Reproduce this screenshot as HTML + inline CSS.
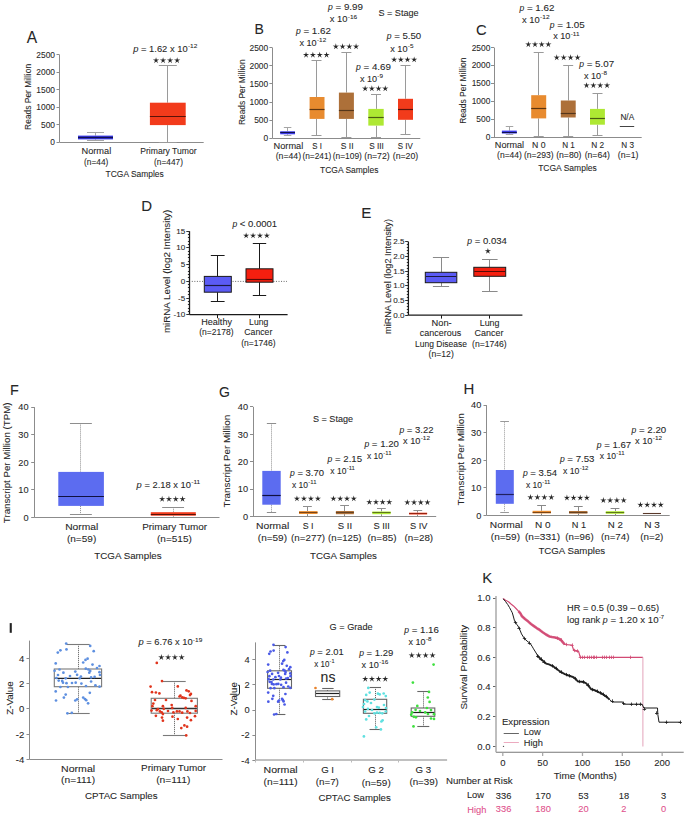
<!DOCTYPE html>
<html><head><meta charset="utf-8"><title>Figure</title>
<style>
html,body{margin:0;padding:0;background:#fff;}
body{width:685px;height:817px;overflow:hidden;}
svg{display:block;font-family:"Liberation Sans",sans-serif;}
text{stroke:currentColor;stroke-width:0.08px;paint-order:stroke;}
</style></head><body>
<svg width="685" height="817" viewBox="0 0 685 817">
<rect width="685" height="817" fill="#fff"/>
<text x="26.7" y="43.2" font-size="15.6" fill="#262626" color="#262626">A</text>
<line x1="59.5" y1="54.7" x2="59.5" y2="142.3" stroke="#8c8c8c" stroke-width="1" stroke-linecap="butt"/>
<line x1="56.5" y1="142.5" x2="59.5" y2="142.5" stroke="#8c8c8c" stroke-width="1" stroke-linecap="butt"/>
<text x="55" y="145.3" font-size="8.4" fill="#262626" color="#262626" text-anchor="end">0</text>
<line x1="56.5" y1="124.5" x2="59.5" y2="124.5" stroke="#8c8c8c" stroke-width="1" stroke-linecap="butt"/>
<text x="55" y="127.78" font-size="8.4" fill="#262626" color="#262626" text-anchor="end">500</text>
<line x1="56.5" y1="107.5" x2="59.5" y2="107.5" stroke="#8c8c8c" stroke-width="1" stroke-linecap="butt"/>
<text x="55" y="110.26" font-size="8.4" fill="#262626" color="#262626" text-anchor="end">1000</text>
<line x1="56.5" y1="89.5" x2="59.5" y2="89.5" stroke="#8c8c8c" stroke-width="1" stroke-linecap="butt"/>
<text x="55" y="92.74" font-size="8.4" fill="#262626" color="#262626" text-anchor="end">1500</text>
<line x1="56.5" y1="72.5" x2="59.5" y2="72.5" stroke="#8c8c8c" stroke-width="1" stroke-linecap="butt"/>
<text x="55" y="75.22" font-size="8.4" fill="#262626" color="#262626" text-anchor="end">2000</text>
<line x1="56.5" y1="54.5" x2="59.5" y2="54.5" stroke="#8c8c8c" stroke-width="1" stroke-linecap="butt"/>
<text x="55" y="57.7" font-size="8.4" fill="#262626" color="#262626" text-anchor="end">2500</text>
<text x="31.3" y="96.9" font-size="8.5" fill="#262626" color="#262626" text-anchor="middle" textLength="66" lengthAdjust="spacingAndGlyphs" transform="rotate(-90 31.3 96.9)">Reads Per Million</text>
<line x1="59.5" y1="142.5" x2="203.7" y2="142.5" stroke="#8c8c8c" stroke-width="1" stroke-linecap="butt"/>
<line x1="95.5" y1="132" x2="95.5" y2="135.6" stroke="#a5a5a5" stroke-width="1" stroke-linecap="butt"/>
<line x1="95.5" y1="139.4" x2="95.5" y2="140.4" stroke="#a5a5a5" stroke-width="1" stroke-linecap="butt"/>
<line x1="87" y1="132.5" x2="104" y2="132.5" stroke="#a5a5a5" stroke-width="1" stroke-linecap="butt"/>
<line x1="87" y1="140.5" x2="104" y2="140.5" stroke="#a5a5a5" stroke-width="1" stroke-linecap="butt"/>
<rect x="78" y="135.6" width="35" height="3.8" fill="#3d3df0" stroke="none" stroke-width="1"/>
<line x1="78" y1="137.5" x2="113" y2="137.5" stroke="#101050" stroke-width="1.3" stroke-linecap="butt"/>
<line x1="167.5" y1="65.4" x2="167.5" y2="102.7" stroke="#9a9a9a" stroke-width="1" stroke-linecap="butt"/>
<line x1="167.5" y1="125.1" x2="167.5" y2="142" stroke="#9a9a9a" stroke-width="1" stroke-linecap="butt"/>
<line x1="158.8" y1="65.5" x2="176.8" y2="65.5" stroke="#9a9a9a" stroke-width="1" stroke-linecap="butt"/>
<line x1="158.8" y1="142.5" x2="176.8" y2="142.5" stroke="#9a9a9a" stroke-width="1" stroke-linecap="butt"/>
<rect x="149.9" y="102.7" width="35.8" height="22.4" fill="#f23b1b" stroke="none" stroke-width="1"/>
<line x1="149.9" y1="116.5" x2="185.7" y2="116.5" stroke="#5a1208" stroke-width="1.2" stroke-linecap="butt"/>
<text x="96.35" y="154" font-size="8.3" fill="#262626" color="#262626" text-anchor="middle" textLength="29.7" lengthAdjust="spacingAndGlyphs">Normal</text>
<text x="96.2" y="164.5" font-size="8.3" fill="#262626" color="#262626" text-anchor="middle" textLength="24.4" lengthAdjust="spacingAndGlyphs">(n=44)</text>
<text x="168.45" y="154.1" font-size="8.3" fill="#262626" color="#262626" text-anchor="middle" textLength="56.5" lengthAdjust="spacingAndGlyphs">Primary Tumor</text>
<text x="168.5" y="164.6" font-size="8.3" fill="#262626" color="#262626" text-anchor="middle">(n=447)</text>
<text x="134.7" y="177" font-size="8.3" fill="#262626" color="#262626" text-anchor="middle" textLength="58.2" lengthAdjust="spacingAndGlyphs">TCGA Samples</text>
<text x="133.2" y="52" font-size="8.6" fill="#262626" color="#262626" textLength="5.21" lengthAdjust="spacingAndGlyphs" font-style="italic">p</text>
<text x="138.41" y="52" font-size="8.6" fill="#262626" color="#262626" textLength="49.22" lengthAdjust="spacingAndGlyphs"> = 1.62 x 10</text>
<text x="187.93" y="48.1" font-size="6" fill="#262626" color="#262626" textLength="9.45" lengthAdjust="spacingAndGlyphs">-12</text>
<polygon points="156.04,57.2 156.68,59.61 159.18,59.48 157.08,60.84 157.98,63.17 156.04,61.6 154.1,63.17 154.99,60.84 152.9,59.48 155.39,59.61" fill="#262626"/>
<polygon points="163.08,57.2 163.73,59.61 166.22,59.48 164.13,60.84 165.02,63.17 163.08,61.6 161.14,63.17 162.03,60.84 159.94,59.48 162.43,59.61" fill="#262626"/>
<polygon points="170.12,57.2 170.77,59.61 173.26,59.48 171.17,60.84 172.06,63.17 170.12,61.6 168.18,63.17 169.07,60.84 166.98,59.48 169.47,59.61" fill="#262626"/>
<polygon points="177.16,57.2 177.81,59.61 180.3,59.48 178.21,60.84 179.1,63.17 177.16,61.6 175.22,63.17 176.12,60.84 174.02,59.48 176.52,59.61" fill="#262626"/>
<text x="254.4" y="33.6" font-size="14" fill="#262626" color="#262626">B</text>
<line x1="272.5" y1="47.7" x2="272.5" y2="138.3" stroke="#8c8c8c" stroke-width="1" stroke-linecap="butt"/>
<line x1="269.4" y1="138.5" x2="272.4" y2="138.5" stroke="#8c8c8c" stroke-width="1" stroke-linecap="butt"/>
<text x="268.2" y="141.3" font-size="8.4" fill="#262626" color="#262626" text-anchor="end">0</text>
<line x1="269.4" y1="120.5" x2="272.4" y2="120.5" stroke="#8c8c8c" stroke-width="1" stroke-linecap="butt"/>
<text x="268.2" y="123.18" font-size="8.4" fill="#262626" color="#262626" text-anchor="end">500</text>
<line x1="269.4" y1="102.5" x2="272.4" y2="102.5" stroke="#8c8c8c" stroke-width="1" stroke-linecap="butt"/>
<text x="268.2" y="105.06" font-size="8.4" fill="#262626" color="#262626" text-anchor="end">1000</text>
<line x1="269.4" y1="83.5" x2="272.4" y2="83.5" stroke="#8c8c8c" stroke-width="1" stroke-linecap="butt"/>
<text x="268.2" y="86.94" font-size="8.4" fill="#262626" color="#262626" text-anchor="end">1500</text>
<line x1="269.4" y1="65.5" x2="272.4" y2="65.5" stroke="#8c8c8c" stroke-width="1" stroke-linecap="butt"/>
<text x="268.2" y="68.82" font-size="8.4" fill="#262626" color="#262626" text-anchor="end">2000</text>
<line x1="269.4" y1="47.5" x2="272.4" y2="47.5" stroke="#8c8c8c" stroke-width="1" stroke-linecap="butt"/>
<text x="268.2" y="50.7" font-size="8.4" fill="#262626" color="#262626" text-anchor="end">2500</text>
<text x="245.3" y="92.2" font-size="8.5" fill="#262626" color="#262626" text-anchor="middle" textLength="65.7" lengthAdjust="spacingAndGlyphs" transform="rotate(-90 245.3 92.2)">Reads Per Million</text>
<line x1="272.4" y1="138.5" x2="420.3" y2="138.5" stroke="#8c8c8c" stroke-width="1" stroke-linecap="butt"/>
<line x1="287.5" y1="127" x2="287.5" y2="131.3" stroke="#a5a5a5" stroke-width="1" stroke-linecap="butt"/>
<line x1="287.5" y1="134.3" x2="287.5" y2="135.2" stroke="#a5a5a5" stroke-width="1" stroke-linecap="butt"/>
<line x1="283.85" y1="127.5" x2="291.35" y2="127.5" stroke="#a5a5a5" stroke-width="1" stroke-linecap="butt"/>
<line x1="283.85" y1="135.5" x2="291.35" y2="135.5" stroke="#a5a5a5" stroke-width="1" stroke-linecap="butt"/>
<rect x="280.2" y="131.3" width="14.8" height="3" fill="#3d3df0" stroke="none" stroke-width="1"/>
<line x1="280.2" y1="132.5" x2="295" y2="132.5" stroke="#101050" stroke-width="1.1" stroke-linecap="butt"/>
<line x1="316.5" y1="60.4" x2="316.5" y2="97" stroke="#9a9a9a" stroke-width="1" stroke-linecap="butt"/>
<line x1="316.5" y1="118.9" x2="316.5" y2="135.4" stroke="#9a9a9a" stroke-width="1" stroke-linecap="butt"/>
<line x1="311.5" y1="60.5" x2="321.5" y2="60.5" stroke="#9a9a9a" stroke-width="1" stroke-linecap="butt"/>
<line x1="311.5" y1="135.5" x2="321.5" y2="135.5" stroke="#9a9a9a" stroke-width="1" stroke-linecap="butt"/>
<rect x="309.6" y="97" width="14.9" height="21.9" fill="#e88b2f" stroke="none" stroke-width="1"/>
<line x1="309.6" y1="109.5" x2="324.5" y2="109.5" stroke="#5e3510" stroke-width="1.2" stroke-linecap="butt"/>
<line x1="346.5" y1="52.2" x2="346.5" y2="92.6" stroke="#9a9a9a" stroke-width="1" stroke-linecap="butt"/>
<line x1="346.5" y1="118.9" x2="346.5" y2="137.3" stroke="#9a9a9a" stroke-width="1" stroke-linecap="butt"/>
<line x1="341.4" y1="52.5" x2="351.4" y2="52.5" stroke="#9a9a9a" stroke-width="1" stroke-linecap="butt"/>
<line x1="341.4" y1="137.5" x2="351.4" y2="137.5" stroke="#9a9a9a" stroke-width="1" stroke-linecap="butt"/>
<rect x="338.9" y="92.6" width="15" height="26.3" fill="#ad7039" stroke="none" stroke-width="1"/>
<line x1="338.9" y1="110.5" x2="353.9" y2="110.5" stroke="#55361a" stroke-width="1.2" stroke-linecap="butt"/>
<line x1="376.5" y1="94.4" x2="376.5" y2="108.9" stroke="#9a9a9a" stroke-width="1" stroke-linecap="butt"/>
<line x1="376.5" y1="125.6" x2="376.5" y2="137.3" stroke="#9a9a9a" stroke-width="1" stroke-linecap="butt"/>
<line x1="371" y1="94.5" x2="381" y2="94.5" stroke="#9a9a9a" stroke-width="1" stroke-linecap="butt"/>
<line x1="371" y1="137.5" x2="381" y2="137.5" stroke="#9a9a9a" stroke-width="1" stroke-linecap="butt"/>
<rect x="368.3" y="108.9" width="15.4" height="16.7" fill="#aee833" stroke="none" stroke-width="1"/>
<line x1="368.3" y1="117.5" x2="383.7" y2="117.5" stroke="#4a5a12" stroke-width="1.2" stroke-linecap="butt"/>
<line x1="405.5" y1="65.1" x2="405.5" y2="98.8" stroke="#9a9a9a" stroke-width="1" stroke-linecap="butt"/>
<line x1="405.5" y1="119.8" x2="405.5" y2="134.3" stroke="#9a9a9a" stroke-width="1" stroke-linecap="butt"/>
<line x1="400.5" y1="65.5" x2="410.5" y2="65.5" stroke="#9a9a9a" stroke-width="1" stroke-linecap="butt"/>
<line x1="400.5" y1="134.5" x2="410.5" y2="134.5" stroke="#9a9a9a" stroke-width="1" stroke-linecap="butt"/>
<rect x="398" y="98.8" width="15" height="21" fill="#f23b1b" stroke="none" stroke-width="1"/>
<line x1="398" y1="109.5" x2="413" y2="109.5" stroke="#5a1208" stroke-width="1.2" stroke-linecap="butt"/>
<text x="288.4" y="148.7" font-size="8.3" fill="#262626" color="#262626" text-anchor="middle" textLength="29.7" lengthAdjust="spacingAndGlyphs">Normal</text>
<text x="288.4" y="159.2" font-size="8.3" fill="#262626" color="#262626" text-anchor="middle" textLength="25.4" lengthAdjust="spacingAndGlyphs">(n=44)</text>
<text x="317.1" y="148.7" font-size="8.3" fill="#262626" color="#262626" text-anchor="middle" textLength="9.6" lengthAdjust="spacingAndGlyphs">S I</text>
<text x="316.9" y="159.2" font-size="8.3" fill="#262626" color="#262626" text-anchor="middle" textLength="28.9" lengthAdjust="spacingAndGlyphs">(n=241)</text>
<text x="347.2" y="148.7" font-size="8.3" fill="#262626" color="#262626" text-anchor="middle" textLength="12.8" lengthAdjust="spacingAndGlyphs">S II</text>
<text x="347.3" y="159.2" font-size="8.3" fill="#262626" color="#262626" text-anchor="middle" textLength="29.2" lengthAdjust="spacingAndGlyphs">(n=109)</text>
<text x="376.5" y="148.7" font-size="8.3" fill="#262626" color="#262626" text-anchor="middle" textLength="14.6" lengthAdjust="spacingAndGlyphs">S III</text>
<text x="377" y="159.2" font-size="8.3" fill="#262626" color="#262626" text-anchor="middle" textLength="25.5" lengthAdjust="spacingAndGlyphs">(n=72)</text>
<text x="405.2" y="148.7" font-size="8.3" fill="#262626" color="#262626" text-anchor="middle" textLength="15" lengthAdjust="spacingAndGlyphs">S IV</text>
<text x="405.5" y="159.2" font-size="8.3" fill="#262626" color="#262626" text-anchor="middle" textLength="25.5" lengthAdjust="spacingAndGlyphs">(n=20)</text>
<text x="349.2" y="172.7" font-size="8.3" fill="#262626" color="#262626" text-anchor="middle" textLength="58.4" lengthAdjust="spacingAndGlyphs">TCGA Samples</text>
<text x="378.4" y="15.8" font-size="8.6" fill="#262626" color="#262626" textLength="40.3" lengthAdjust="spacingAndGlyphs">S = Stage</text>
<text x="295.9" y="33.8" font-size="8.6" fill="#262626" color="#262626" font-style="italic">p</text>
<text x="300.68" y="33.8" font-size="8.6" fill="#262626" color="#262626" textLength="30.32" lengthAdjust="spacingAndGlyphs"> = 1.62</text>
<text x="299.4" y="45.9" font-size="8.6" fill="#262626" color="#262626" textLength="17.27" lengthAdjust="spacingAndGlyphs">x 10</text>
<text x="316.97" y="42" font-size="6" fill="#262626" color="#262626" textLength="9.21" lengthAdjust="spacingAndGlyphs">-12</text>
<polygon points="306.04,51.7 306.68,54.11 309.18,53.98 307.08,55.34 307.98,57.67 306.04,56.1 304.1,57.67 304.99,55.34 302.9,53.98 305.39,54.11" fill="#262626"/>
<polygon points="312.88,51.7 313.53,54.11 316.02,53.98 313.93,55.34 314.82,57.67 312.88,56.1 310.94,57.67 311.83,55.34 309.74,53.98 312.23,54.11" fill="#262626"/>
<polygon points="319.72,51.7 320.37,54.11 322.86,53.98 320.77,55.34 321.66,57.67 319.72,56.1 317.78,57.67 318.67,55.34 316.58,53.98 319.07,54.11" fill="#262626"/>
<polygon points="326.56,51.7 327.21,54.11 329.7,53.98 327.61,55.34 328.5,57.67 326.56,56.1 324.62,57.67 325.52,55.34 323.42,53.98 325.92,54.11" fill="#262626"/>
<text x="328" y="10" font-size="8.6" fill="#262626" color="#262626" font-style="italic">p</text>
<text x="332.78" y="10" font-size="8.6" fill="#262626" color="#262626" textLength="30.22" lengthAdjust="spacingAndGlyphs"> = 9.99</text>
<text x="329.7" y="22.4" font-size="8.6" fill="#262626" color="#262626" textLength="17.72" lengthAdjust="spacingAndGlyphs">x 10</text>
<text x="347.72" y="18.5" font-size="6" fill="#262626" color="#262626" textLength="9.45" lengthAdjust="spacingAndGlyphs">-16</text>
<polygon points="335.84,43.3 336.48,45.71 338.98,45.58 336.88,46.94 337.78,49.27 335.84,47.7 333.9,49.27 334.79,46.94 332.7,45.58 335.19,45.71" fill="#262626"/>
<polygon points="342.58,43.3 343.23,45.71 345.72,45.58 343.63,46.94 344.52,49.27 342.58,47.7 340.64,49.27 341.53,46.94 339.44,45.58 341.93,45.71" fill="#262626"/>
<polygon points="349.32,43.3 349.97,45.71 352.46,45.58 350.37,46.94 351.26,49.27 349.32,47.7 347.38,49.27 348.27,46.94 346.18,45.58 348.67,45.71" fill="#262626"/>
<polygon points="356.06,43.3 356.71,45.71 359.2,45.58 357.11,46.94 358,49.27 356.06,47.7 354.12,49.27 355.02,46.94 352.92,45.58 355.42,45.71" fill="#262626"/>
<text x="356" y="69.7" font-size="8.6" fill="#262626" color="#262626" font-style="italic">p</text>
<text x="360.78" y="69.7" font-size="8.6" fill="#262626" color="#262626" textLength="30.22" lengthAdjust="spacingAndGlyphs"> = 4.69</text>
<text x="359.9" y="82.3" font-size="8.6" fill="#262626" color="#262626" textLength="17.15" lengthAdjust="spacingAndGlyphs">x 10</text>
<text x="377.35" y="78.4" font-size="6" fill="#262626" color="#262626" textLength="5.63" lengthAdjust="spacingAndGlyphs">-9</text>
<polygon points="365.14,85.3 365.78,87.71 368.28,87.58 366.18,88.94 367.08,91.27 365.14,89.7 363.2,91.27 364.09,88.94 362,87.58 364.49,87.71" fill="#262626"/>
<polygon points="371.85,85.3 372.49,87.71 374.98,87.58 372.89,88.94 373.79,91.27 371.85,89.7 369.91,91.27 370.8,88.94 368.71,87.58 371.2,87.71" fill="#262626"/>
<polygon points="378.55,85.3 379.2,87.71 381.69,87.58 379.6,88.94 380.49,91.27 378.55,89.7 376.61,91.27 377.51,88.94 375.42,87.58 377.91,87.71" fill="#262626"/>
<polygon points="385.26,85.3 385.91,87.71 388.4,87.58 386.31,88.94 387.2,91.27 385.26,89.7 383.32,91.27 384.22,88.94 382.12,87.58 384.62,87.71" fill="#262626"/>
<text x="386.7" y="38.9" font-size="8.6" fill="#262626" color="#262626" font-style="italic">p</text>
<text x="391.48" y="38.9" font-size="8.6" fill="#262626" color="#262626" textLength="29.72" lengthAdjust="spacingAndGlyphs"> = 5.50</text>
<text x="390.2" y="52" font-size="8.6" fill="#262626" color="#262626" textLength="17.3" lengthAdjust="spacingAndGlyphs">x 10</text>
<text x="407.8" y="48.1" font-size="6" fill="#262626" color="#262626" textLength="5.68" lengthAdjust="spacingAndGlyphs">-5</text>
<polygon points="394.14,56.4 394.78,58.81 397.28,58.68 395.18,60.04 396.08,62.37 394.14,60.8 392.2,62.37 393.09,60.04 391,58.68 393.49,58.81" fill="#262626"/>
<polygon points="400.81,56.4 401.46,58.81 403.95,58.68 401.86,60.04 402.75,62.37 400.81,60.8 398.87,62.37 399.77,60.04 397.67,58.68 400.17,58.81" fill="#262626"/>
<polygon points="407.49,56.4 408.13,58.81 410.63,58.68 408.53,60.04 409.43,62.37 407.49,60.8 405.55,62.37 406.44,60.04 404.35,58.68 406.84,58.81" fill="#262626"/>
<polygon points="414.16,56.4 414.81,58.81 417.3,58.68 415.21,60.04 416.1,62.37 414.16,60.8 412.22,62.37 413.12,60.04 411.02,58.68 413.52,58.81" fill="#262626"/>
<text x="476" y="35.3" font-size="14.8" fill="#262626" color="#262626">C</text>
<line x1="494.5" y1="47.6" x2="494.5" y2="137" stroke="#8c8c8c" stroke-width="1" stroke-linecap="butt"/>
<line x1="491" y1="137.5" x2="494" y2="137.5" stroke="#8c8c8c" stroke-width="1" stroke-linecap="butt"/>
<text x="490.3" y="140" font-size="8.4" fill="#262626" color="#262626" text-anchor="end">0</text>
<line x1="491" y1="119.5" x2="494" y2="119.5" stroke="#8c8c8c" stroke-width="1" stroke-linecap="butt"/>
<text x="490.3" y="122.12" font-size="8.4" fill="#262626" color="#262626" text-anchor="end">500</text>
<line x1="491" y1="101.5" x2="494" y2="101.5" stroke="#8c8c8c" stroke-width="1" stroke-linecap="butt"/>
<text x="490.3" y="104.24" font-size="8.4" fill="#262626" color="#262626" text-anchor="end">1000</text>
<line x1="491" y1="83.5" x2="494" y2="83.5" stroke="#8c8c8c" stroke-width="1" stroke-linecap="butt"/>
<text x="490.3" y="86.36" font-size="8.4" fill="#262626" color="#262626" text-anchor="end">1500</text>
<line x1="491" y1="65.5" x2="494" y2="65.5" stroke="#8c8c8c" stroke-width="1" stroke-linecap="butt"/>
<text x="490.3" y="68.48" font-size="8.4" fill="#262626" color="#262626" text-anchor="end">2000</text>
<line x1="491" y1="47.5" x2="494" y2="47.5" stroke="#8c8c8c" stroke-width="1" stroke-linecap="butt"/>
<text x="490.3" y="50.6" font-size="8.4" fill="#262626" color="#262626" text-anchor="end">2500</text>
<text x="466.4" y="90.6" font-size="8.5" fill="#262626" color="#262626" text-anchor="middle" textLength="66.2" lengthAdjust="spacingAndGlyphs" transform="rotate(-90 466.4 90.6)">Reads Per Million</text>
<line x1="494" y1="137.5" x2="641.7" y2="137.5" stroke="#8c8c8c" stroke-width="1" stroke-linecap="butt"/>
<line x1="509.5" y1="126.4" x2="509.5" y2="130.6" stroke="#a5a5a5" stroke-width="1" stroke-linecap="butt"/>
<line x1="509.5" y1="133.5" x2="509.5" y2="134.5" stroke="#a5a5a5" stroke-width="1" stroke-linecap="butt"/>
<line x1="505.75" y1="126.5" x2="513.25" y2="126.5" stroke="#a5a5a5" stroke-width="1" stroke-linecap="butt"/>
<line x1="505.75" y1="134.5" x2="513.25" y2="134.5" stroke="#a5a5a5" stroke-width="1" stroke-linecap="butt"/>
<rect x="501.9" y="130.6" width="14.9" height="2.9" fill="#3d3df0" stroke="none" stroke-width="1"/>
<line x1="501.9" y1="132.5" x2="516.8" y2="132.5" stroke="#101050" stroke-width="1.1" stroke-linecap="butt"/>
<line x1="538.5" y1="52.2" x2="538.5" y2="95.2" stroke="#9a9a9a" stroke-width="1" stroke-linecap="butt"/>
<line x1="538.5" y1="118.4" x2="538.5" y2="136.8" stroke="#9a9a9a" stroke-width="1" stroke-linecap="butt"/>
<line x1="533.7" y1="52.5" x2="543.7" y2="52.5" stroke="#9a9a9a" stroke-width="1" stroke-linecap="butt"/>
<line x1="533.7" y1="136.5" x2="543.7" y2="136.5" stroke="#9a9a9a" stroke-width="1" stroke-linecap="butt"/>
<rect x="531.2" y="95.2" width="15" height="23.2" fill="#e88b2f" stroke="none" stroke-width="1"/>
<line x1="531.2" y1="108.5" x2="546.2" y2="108.5" stroke="#5e3510" stroke-width="1.2" stroke-linecap="butt"/>
<line x1="568.5" y1="65.1" x2="568.5" y2="100.5" stroke="#9a9a9a" stroke-width="1" stroke-linecap="butt"/>
<line x1="568.5" y1="117.5" x2="568.5" y2="136.8" stroke="#9a9a9a" stroke-width="1" stroke-linecap="butt"/>
<line x1="563.2" y1="65.5" x2="573.2" y2="65.5" stroke="#9a9a9a" stroke-width="1" stroke-linecap="butt"/>
<line x1="563.2" y1="136.5" x2="573.2" y2="136.5" stroke="#9a9a9a" stroke-width="1" stroke-linecap="butt"/>
<rect x="560.8" y="100.5" width="14.9" height="17" fill="#ad7039" stroke="none" stroke-width="1"/>
<line x1="560.8" y1="113.5" x2="575.7" y2="113.5" stroke="#55361a" stroke-width="1.2" stroke-linecap="butt"/>
<line x1="597.5" y1="93.5" x2="597.5" y2="108.9" stroke="#9a9a9a" stroke-width="1" stroke-linecap="butt"/>
<line x1="597.5" y1="124.7" x2="597.5" y2="135" stroke="#9a9a9a" stroke-width="1" stroke-linecap="butt"/>
<line x1="592.5" y1="93.5" x2="602.5" y2="93.5" stroke="#9a9a9a" stroke-width="1" stroke-linecap="butt"/>
<line x1="592.5" y1="135.5" x2="602.5" y2="135.5" stroke="#9a9a9a" stroke-width="1" stroke-linecap="butt"/>
<rect x="590" y="108.9" width="14.9" height="15.8" fill="#aee833" stroke="none" stroke-width="1"/>
<line x1="590" y1="118.5" x2="604.9" y2="118.5" stroke="#4a5a12" stroke-width="1.2" stroke-linecap="butt"/>
<line x1="619.8" y1="126.5" x2="634.2" y2="126.5" stroke="#444" stroke-width="1" stroke-linecap="butt"/>
<text x="627.3" y="120.1" font-size="8.3" fill="#262626" color="#262626" text-anchor="middle">N/A</text>
<text x="509.5" y="147.8" font-size="8.3" fill="#262626" color="#262626" text-anchor="middle" textLength="29.3" lengthAdjust="spacingAndGlyphs">Normal</text>
<text x="509.5" y="158" font-size="8.3" fill="#262626" color="#262626" text-anchor="middle" textLength="24.9" lengthAdjust="spacingAndGlyphs">(n=44)</text>
<text x="538.8" y="147.8" font-size="8.3" fill="#262626" color="#262626" text-anchor="middle" textLength="13.5" lengthAdjust="spacingAndGlyphs">N 0</text>
<text x="538.8" y="158" font-size="8.3" fill="#262626" color="#262626" text-anchor="middle" textLength="29.7" lengthAdjust="spacingAndGlyphs">(n=293)</text>
<text x="568.5" y="147.8" font-size="8.3" fill="#262626" color="#262626" text-anchor="middle" textLength="12.7" lengthAdjust="spacingAndGlyphs">N 1</text>
<text x="568.8" y="158" font-size="8.3" fill="#262626" color="#262626" text-anchor="middle" textLength="25.3" lengthAdjust="spacingAndGlyphs">(n=80)</text>
<text x="597.6" y="147.8" font-size="8.3" fill="#262626" color="#262626" text-anchor="middle" textLength="12.9" lengthAdjust="spacingAndGlyphs">N 2</text>
<text x="597.3" y="158" font-size="8.3" fill="#262626" color="#262626" text-anchor="middle" textLength="25.3" lengthAdjust="spacingAndGlyphs">(n=64)</text>
<text x="627.7" y="147.8" font-size="8.3" fill="#262626" color="#262626" text-anchor="middle" textLength="12.7" lengthAdjust="spacingAndGlyphs">N 3</text>
<text x="628.1" y="158" font-size="8.3" fill="#262626" color="#262626" text-anchor="middle" textLength="20.6" lengthAdjust="spacingAndGlyphs">(n=1)</text>
<text x="567.5" y="170.8" font-size="8.3" fill="#262626" color="#262626" text-anchor="middle" textLength="58.7" lengthAdjust="spacingAndGlyphs">TCGA Samples</text>
<text x="519.4" y="10.9" font-size="8.6" fill="#262626" color="#262626" font-style="italic">p</text>
<text x="524.18" y="10.9" font-size="8.6" fill="#262626" color="#262626" textLength="30.32" lengthAdjust="spacingAndGlyphs"> = 1.62</text>
<text x="522" y="22.8" font-size="8.6" fill="#262626" color="#262626" textLength="17.78" lengthAdjust="spacingAndGlyphs">x 10</text>
<text x="540.08" y="18.9" font-size="6" fill="#262626" color="#262626" textLength="9.49" lengthAdjust="spacingAndGlyphs">-12</text>
<polygon points="528.34,41.2 528.98,43.61 531.48,43.48 529.38,44.84 530.28,47.17 528.34,45.6 526.4,47.17 527.29,44.84 525.2,43.48 527.69,43.61" fill="#262626"/>
<polygon points="535.01,41.2 535.66,43.61 538.15,43.48 536.06,44.84 536.95,47.17 535.01,45.6 533.07,47.17 533.97,44.84 531.87,43.48 534.37,43.61" fill="#262626"/>
<polygon points="541.69,41.2 542.33,43.61 544.83,43.48 542.73,44.84 543.63,47.17 541.69,45.6 539.75,47.17 540.64,44.84 538.55,43.48 541.04,43.61" fill="#262626"/>
<polygon points="548.36,41.2 549.01,43.61 551.5,43.48 549.41,44.84 550.3,47.17 548.36,45.6 546.42,47.17 547.32,44.84 545.22,43.48 547.72,43.61" fill="#262626"/>
<text x="549.7" y="27.8" font-size="8.6" fill="#262626" color="#262626" font-style="italic">p</text>
<text x="554.48" y="27.8" font-size="8.6" fill="#262626" color="#262626" textLength="30.32" lengthAdjust="spacingAndGlyphs"> = 1.05</text>
<text x="553.2" y="39.4" font-size="8.6" fill="#262626" color="#262626" textLength="17.25" lengthAdjust="spacingAndGlyphs">x 10</text>
<text x="570.75" y="35.5" font-size="6" fill="#262626" color="#262626" textLength="8.73" lengthAdjust="spacingAndGlyphs">-11</text>
<polygon points="556.74,54.3 557.38,56.71 559.88,56.58 557.78,57.94 558.68,60.27 556.74,58.7 554.8,60.27 555.69,57.94 553.6,56.58 556.09,56.71" fill="#262626"/>
<polygon points="563.68,54.3 564.33,56.71 566.82,56.58 564.73,57.94 565.62,60.27 563.68,58.7 561.74,60.27 562.63,57.94 560.54,56.58 563.03,56.71" fill="#262626"/>
<polygon points="570.62,54.3 571.27,56.71 573.76,56.58 571.67,57.94 572.56,60.27 570.62,58.7 568.68,60.27 569.57,57.94 567.48,56.58 569.97,56.71" fill="#262626"/>
<polygon points="577.56,54.3 578.21,56.71 580.7,56.58 578.61,57.94 579.5,60.27 577.56,58.7 575.62,60.27 576.52,57.94 574.42,56.58 576.92,56.71" fill="#262626"/>
<text x="579.2" y="66.9" font-size="8.6" fill="#262626" color="#262626" font-style="italic">p</text>
<text x="583.98" y="66.9" font-size="8.6" fill="#262626" color="#262626" textLength="30.22" lengthAdjust="spacingAndGlyphs"> = 5.07</text>
<text x="583.9" y="78.5" font-size="8.6" fill="#262626" color="#262626" textLength="17.15" lengthAdjust="spacingAndGlyphs">x 10</text>
<text x="601.35" y="74.6" font-size="6" fill="#262626" color="#262626" textLength="5.63" lengthAdjust="spacingAndGlyphs">-8</text>
<polygon points="586.54,82.2 587.18,84.61 589.68,84.48 587.58,85.84 588.48,88.17 586.54,86.6 584.6,88.17 585.49,85.84 583.4,84.48 585.89,84.61" fill="#262626"/>
<polygon points="593.38,82.2 594.03,84.61 596.52,84.48 594.43,85.84 595.32,88.17 593.38,86.6 591.44,88.17 592.33,85.84 590.24,84.48 592.73,84.61" fill="#262626"/>
<polygon points="600.22,82.2 600.87,84.61 603.36,84.48 601.27,85.84 602.16,88.17 600.22,86.6 598.28,88.17 599.17,85.84 597.08,84.48 599.57,84.61" fill="#262626"/>
<polygon points="607.06,82.2 607.71,84.61 610.2,84.48 608.11,85.84 609,88.17 607.06,86.6 605.12,88.17 606.02,85.84 603.92,84.48 606.42,84.61" fill="#262626"/>
<text x="141.2" y="211.2" font-size="15" fill="#262626" color="#262626">D</text>
<line x1="189.5" y1="231.2" x2="189.5" y2="314.6" stroke="#1a1a1a" stroke-width="1.3" stroke-linecap="butt"/>
<line x1="186.3" y1="314.5" x2="189.5" y2="314.5" stroke="#1a1a1a" stroke-width="0.9" stroke-linecap="butt"/>
<line x1="187.9" y1="311.5" x2="189.5" y2="311.5" stroke="#1a1a1a" stroke-width="0.9" stroke-linecap="butt"/>
<line x1="187.9" y1="308.5" x2="189.5" y2="308.5" stroke="#1a1a1a" stroke-width="0.9" stroke-linecap="butt"/>
<line x1="187.9" y1="304.5" x2="189.5" y2="304.5" stroke="#1a1a1a" stroke-width="0.9" stroke-linecap="butt"/>
<line x1="187.9" y1="301.5" x2="189.5" y2="301.5" stroke="#1a1a1a" stroke-width="0.9" stroke-linecap="butt"/>
<line x1="186.3" y1="298.5" x2="189.5" y2="298.5" stroke="#1a1a1a" stroke-width="0.9" stroke-linecap="butt"/>
<line x1="187.9" y1="294.5" x2="189.5" y2="294.5" stroke="#1a1a1a" stroke-width="0.9" stroke-linecap="butt"/>
<line x1="187.9" y1="291.5" x2="189.5" y2="291.5" stroke="#1a1a1a" stroke-width="0.9" stroke-linecap="butt"/>
<line x1="187.9" y1="287.5" x2="189.5" y2="287.5" stroke="#1a1a1a" stroke-width="0.9" stroke-linecap="butt"/>
<line x1="187.9" y1="284.5" x2="189.5" y2="284.5" stroke="#1a1a1a" stroke-width="0.9" stroke-linecap="butt"/>
<line x1="186.3" y1="281.5" x2="189.5" y2="281.5" stroke="#1a1a1a" stroke-width="0.9" stroke-linecap="butt"/>
<line x1="187.9" y1="277.5" x2="189.5" y2="277.5" stroke="#1a1a1a" stroke-width="0.9" stroke-linecap="butt"/>
<line x1="187.9" y1="274.5" x2="189.5" y2="274.5" stroke="#1a1a1a" stroke-width="0.9" stroke-linecap="butt"/>
<line x1="187.9" y1="271.5" x2="189.5" y2="271.5" stroke="#1a1a1a" stroke-width="0.9" stroke-linecap="butt"/>
<line x1="187.9" y1="267.5" x2="189.5" y2="267.5" stroke="#1a1a1a" stroke-width="0.9" stroke-linecap="butt"/>
<line x1="186.3" y1="264.5" x2="189.5" y2="264.5" stroke="#1a1a1a" stroke-width="0.9" stroke-linecap="butt"/>
<line x1="187.9" y1="261.5" x2="189.5" y2="261.5" stroke="#1a1a1a" stroke-width="0.9" stroke-linecap="butt"/>
<line x1="187.9" y1="257.5" x2="189.5" y2="257.5" stroke="#1a1a1a" stroke-width="0.9" stroke-linecap="butt"/>
<line x1="187.9" y1="254.5" x2="189.5" y2="254.5" stroke="#1a1a1a" stroke-width="0.9" stroke-linecap="butt"/>
<line x1="187.9" y1="251.5" x2="189.5" y2="251.5" stroke="#1a1a1a" stroke-width="0.9" stroke-linecap="butt"/>
<line x1="186.3" y1="247.5" x2="189.5" y2="247.5" stroke="#1a1a1a" stroke-width="0.9" stroke-linecap="butt"/>
<line x1="187.9" y1="244.5" x2="189.5" y2="244.5" stroke="#1a1a1a" stroke-width="0.9" stroke-linecap="butt"/>
<line x1="187.9" y1="241.5" x2="189.5" y2="241.5" stroke="#1a1a1a" stroke-width="0.9" stroke-linecap="butt"/>
<line x1="187.9" y1="237.5" x2="189.5" y2="237.5" stroke="#1a1a1a" stroke-width="0.9" stroke-linecap="butt"/>
<line x1="187.9" y1="234.5" x2="189.5" y2="234.5" stroke="#1a1a1a" stroke-width="0.9" stroke-linecap="butt"/>
<line x1="186.3" y1="231.5" x2="189.5" y2="231.5" stroke="#1a1a1a" stroke-width="0.9" stroke-linecap="butt"/>
<text x="185.3" y="317.2" font-size="8.1" fill="#262626" color="#262626" text-anchor="end">-10</text>
<text x="185.3" y="300.5" font-size="8.1" fill="#262626" color="#262626" text-anchor="end">-5</text>
<text x="185.3" y="283.8" font-size="8.1" fill="#262626" color="#262626" text-anchor="end">0</text>
<text x="185.3" y="267.1" font-size="8.1" fill="#262626" color="#262626" text-anchor="end">5</text>
<text x="185.3" y="250.4" font-size="8.1" fill="#262626" color="#262626" text-anchor="end">10</text>
<text x="185.3" y="233.7" font-size="8.1" fill="#262626" color="#262626" text-anchor="end">15</text>
<text x="170.2" y="271.4" font-size="9.5" fill="#262626" color="#262626" text-anchor="middle" textLength="123.3" lengthAdjust="spacingAndGlyphs" transform="rotate(-90 170.2 271.4)">miRNA Level (log2 Intensity)</text>
<line x1="189.5" y1="314.6" x2="287.6" y2="314.6" stroke="#1a1a1a" stroke-width="1.3" stroke-linecap="butt"/>
<line x1="217.5" y1="314.6" x2="217.5" y2="318.2" stroke="#1a1a1a" stroke-width="1" stroke-linecap="butt"/>
<line x1="259.5" y1="314.6" x2="259.5" y2="318.2" stroke="#1a1a1a" stroke-width="1" stroke-linecap="butt"/>
<line x1="191.8" y1="281.4" x2="287" y2="281.4" stroke="#555" stroke-width="0.9" stroke-dasharray="1 1.55" stroke-linecap="butt"/>
<line x1="217.5" y1="255.1" x2="217.5" y2="276.4" stroke="#1a1a1a" stroke-width="1" stroke-linecap="butt"/>
<line x1="217.5" y1="292.2" x2="217.5" y2="301.5" stroke="#1a1a1a" stroke-width="1" stroke-linecap="butt"/>
<line x1="210.8" y1="255.5" x2="224.6" y2="255.5" stroke="#1a1a1a" stroke-width="1" stroke-linecap="butt"/>
<line x1="210.8" y1="301.5" x2="224.6" y2="301.5" stroke="#1a1a1a" stroke-width="1" stroke-linecap="butt"/>
<rect x="204.3" y="276.4" width="27" height="15.8" fill="#5b5bf5" stroke="#1a1a1a" stroke-width="1"/>
<line x1="204.8" y1="285.5" x2="230.8" y2="285.5" stroke="#1a1a40" stroke-width="1.2" stroke-linecap="butt"/>
<line x1="259.5" y1="243.4" x2="259.5" y2="268.8" stroke="#1a1a1a" stroke-width="1" stroke-linecap="butt"/>
<line x1="259.5" y1="282.2" x2="259.5" y2="295.9" stroke="#1a1a1a" stroke-width="1" stroke-linecap="butt"/>
<line x1="252.8" y1="243.5" x2="266.2" y2="243.5" stroke="#1a1a1a" stroke-width="1" stroke-linecap="butt"/>
<line x1="252.8" y1="295.5" x2="266.2" y2="295.5" stroke="#1a1a1a" stroke-width="1" stroke-linecap="butt"/>
<rect x="246" y="268.8" width="27" height="13.4" fill="#f51f0f" stroke="#1a1a1a" stroke-width="1"/>
<line x1="246.5" y1="279.5" x2="272.5" y2="279.5" stroke="#5a0a05" stroke-width="1.2" stroke-linecap="butt"/>
<text x="232.4" y="227.3" font-size="8.6" fill="#262626" color="#262626" font-style="italic">p</text>
<text x="237.18" y="227.3" font-size="8.6" fill="#262626" color="#262626" textLength="39.82" lengthAdjust="spacingAndGlyphs"> &lt; 0.0001</text>
<polygon points="246.14,232.4 246.78,234.81 249.28,234.68 247.18,236.04 248.08,238.37 246.14,236.8 244.2,238.37 245.09,236.04 243,234.68 245.49,234.81" fill="#262626"/>
<polygon points="253.05,232.4 253.69,234.81 256.18,234.68 254.09,236.04 254.99,238.37 253.05,236.8 251.11,238.37 252,236.04 249.91,234.68 252.4,234.81" fill="#262626"/>
<polygon points="259.95,232.4 260.6,234.81 263.09,234.68 261,236.04 261.89,238.37 259.95,236.8 258.01,238.37 258.91,236.04 256.82,234.68 259.31,234.81" fill="#262626"/>
<polygon points="266.86,232.4 267.51,234.81 270,234.68 267.91,236.04 268.8,238.37 266.86,236.8 264.92,238.37 265.82,236.04 263.72,234.68 266.22,234.81" fill="#262626"/>
<text x="216.6" y="325" font-size="8.3" fill="#262626" color="#262626" text-anchor="middle" textLength="30.7" lengthAdjust="spacingAndGlyphs">Healthy</text>
<text x="216.4" y="335.4" font-size="8.3" fill="#262626" color="#262626" text-anchor="middle" textLength="34.3" lengthAdjust="spacingAndGlyphs">(n=2178)</text>
<text x="258.7" y="325" font-size="8.3" fill="#262626" color="#262626" text-anchor="middle" textLength="19.2" lengthAdjust="spacingAndGlyphs">Lung</text>
<text x="258.3" y="335.2" font-size="8.3" fill="#262626" color="#262626" text-anchor="middle" textLength="28" lengthAdjust="spacingAndGlyphs">Cancer</text>
<text x="258.4" y="345.7" font-size="8.3" fill="#262626" color="#262626" text-anchor="middle" textLength="34.4" lengthAdjust="spacingAndGlyphs">(n=1746)</text>
<text x="361.2" y="217.9" font-size="15.2" fill="#262626" color="#262626">E</text>
<line x1="408.4" y1="241.7" x2="408.4" y2="315.2" stroke="#1a1a1a" stroke-width="1.3" stroke-linecap="butt"/>
<line x1="405.2" y1="315.5" x2="408.4" y2="315.5" stroke="#1a1a1a" stroke-width="0.9" stroke-linecap="butt"/>
<line x1="406.8" y1="312.5" x2="408.4" y2="312.5" stroke="#1a1a1a" stroke-width="0.9" stroke-linecap="butt"/>
<line x1="406.8" y1="309.5" x2="408.4" y2="309.5" stroke="#1a1a1a" stroke-width="0.9" stroke-linecap="butt"/>
<line x1="406.8" y1="306.5" x2="408.4" y2="306.5" stroke="#1a1a1a" stroke-width="0.9" stroke-linecap="butt"/>
<line x1="406.8" y1="303.5" x2="408.4" y2="303.5" stroke="#1a1a1a" stroke-width="0.9" stroke-linecap="butt"/>
<line x1="405.2" y1="300.5" x2="408.4" y2="300.5" stroke="#1a1a1a" stroke-width="0.9" stroke-linecap="butt"/>
<line x1="406.8" y1="297.5" x2="408.4" y2="297.5" stroke="#1a1a1a" stroke-width="0.9" stroke-linecap="butt"/>
<line x1="406.8" y1="294.5" x2="408.4" y2="294.5" stroke="#1a1a1a" stroke-width="0.9" stroke-linecap="butt"/>
<line x1="406.8" y1="291.5" x2="408.4" y2="291.5" stroke="#1a1a1a" stroke-width="0.9" stroke-linecap="butt"/>
<line x1="406.8" y1="288.5" x2="408.4" y2="288.5" stroke="#1a1a1a" stroke-width="0.9" stroke-linecap="butt"/>
<line x1="405.2" y1="285.5" x2="408.4" y2="285.5" stroke="#1a1a1a" stroke-width="0.9" stroke-linecap="butt"/>
<line x1="406.8" y1="282.5" x2="408.4" y2="282.5" stroke="#1a1a1a" stroke-width="0.9" stroke-linecap="butt"/>
<line x1="406.8" y1="279.5" x2="408.4" y2="279.5" stroke="#1a1a1a" stroke-width="0.9" stroke-linecap="butt"/>
<line x1="406.8" y1="276.5" x2="408.4" y2="276.5" stroke="#1a1a1a" stroke-width="0.9" stroke-linecap="butt"/>
<line x1="406.8" y1="274.5" x2="408.4" y2="274.5" stroke="#1a1a1a" stroke-width="0.9" stroke-linecap="butt"/>
<line x1="405.2" y1="271.5" x2="408.4" y2="271.5" stroke="#1a1a1a" stroke-width="0.9" stroke-linecap="butt"/>
<line x1="406.8" y1="268.5" x2="408.4" y2="268.5" stroke="#1a1a1a" stroke-width="0.9" stroke-linecap="butt"/>
<line x1="406.8" y1="265.5" x2="408.4" y2="265.5" stroke="#1a1a1a" stroke-width="0.9" stroke-linecap="butt"/>
<line x1="406.8" y1="262.5" x2="408.4" y2="262.5" stroke="#1a1a1a" stroke-width="0.9" stroke-linecap="butt"/>
<line x1="406.8" y1="259.5" x2="408.4" y2="259.5" stroke="#1a1a1a" stroke-width="0.9" stroke-linecap="butt"/>
<line x1="405.2" y1="256.5" x2="408.4" y2="256.5" stroke="#1a1a1a" stroke-width="0.9" stroke-linecap="butt"/>
<line x1="406.8" y1="253.5" x2="408.4" y2="253.5" stroke="#1a1a1a" stroke-width="0.9" stroke-linecap="butt"/>
<line x1="406.8" y1="250.5" x2="408.4" y2="250.5" stroke="#1a1a1a" stroke-width="0.9" stroke-linecap="butt"/>
<line x1="406.8" y1="247.5" x2="408.4" y2="247.5" stroke="#1a1a1a" stroke-width="0.9" stroke-linecap="butt"/>
<line x1="406.8" y1="244.5" x2="408.4" y2="244.5" stroke="#1a1a1a" stroke-width="0.9" stroke-linecap="butt"/>
<line x1="405.2" y1="241.5" x2="408.4" y2="241.5" stroke="#1a1a1a" stroke-width="0.9" stroke-linecap="butt"/>
<text x="404.5" y="317.7" font-size="8.1" fill="#262626" color="#262626" text-anchor="end">0.0</text>
<text x="404.5" y="303" font-size="8.1" fill="#262626" color="#262626" text-anchor="end">0.5</text>
<text x="404.5" y="288.3" font-size="8.1" fill="#262626" color="#262626" text-anchor="end">1.0</text>
<text x="404.5" y="273.6" font-size="8.1" fill="#262626" color="#262626" text-anchor="end">1.5</text>
<text x="404.5" y="258.9" font-size="8.1" fill="#262626" color="#262626" text-anchor="end">2.0</text>
<text x="404.5" y="244.2" font-size="8.1" fill="#262626" color="#262626" text-anchor="end">2.5</text>
<text x="391" y="276.5" font-size="8.9" fill="#262626" color="#262626" text-anchor="middle" textLength="114.9" lengthAdjust="spacingAndGlyphs" transform="rotate(-90 391 276.5)">miRNA Level (log2 Intensity)</text>
<line x1="408.4" y1="315.2" x2="522.4" y2="315.2" stroke="#1a1a1a" stroke-width="1.3" stroke-linecap="butt"/>
<line x1="441.5" y1="315.2" x2="441.5" y2="318.6" stroke="#1a1a1a" stroke-width="1" stroke-linecap="butt"/>
<line x1="489.5" y1="315.2" x2="489.5" y2="318.6" stroke="#1a1a1a" stroke-width="1" stroke-linecap="butt"/>
<line x1="441.5" y1="257.4" x2="441.5" y2="272.3" stroke="#8a8a8a" stroke-width="1" stroke-linecap="butt"/>
<line x1="441.5" y1="282.7" x2="441.5" y2="286.8" stroke="#8a8a8a" stroke-width="1" stroke-linecap="butt"/>
<line x1="432.9" y1="257.5" x2="449.1" y2="257.5" stroke="#8a8a8a" stroke-width="1" stroke-linecap="butt"/>
<line x1="432.9" y1="286.5" x2="449.1" y2="286.5" stroke="#8a8a8a" stroke-width="1" stroke-linecap="butt"/>
<rect x="425.3" y="272.3" width="31.5" height="10.4" fill="#5b5bf5" stroke="#1a1a1a" stroke-width="1"/>
<line x1="425.8" y1="276.5" x2="456.3" y2="276.5" stroke="#1a1a40" stroke-width="1" stroke-linecap="butt"/>
<line x1="489.5" y1="259.1" x2="489.5" y2="267.3" stroke="#8a8a8a" stroke-width="1" stroke-linecap="butt"/>
<line x1="489.5" y1="276.3" x2="489.5" y2="291" stroke="#8a8a8a" stroke-width="1" stroke-linecap="butt"/>
<line x1="482" y1="259.5" x2="497.6" y2="259.5" stroke="#8a8a8a" stroke-width="1" stroke-linecap="butt"/>
<line x1="482" y1="291.5" x2="497.6" y2="291.5" stroke="#8a8a8a" stroke-width="1" stroke-linecap="butt"/>
<rect x="473.8" y="267.3" width="31.9" height="9" fill="#f51f0f" stroke="#1a1a1a" stroke-width="1"/>
<line x1="474.3" y1="271.5" x2="505.2" y2="271.5" stroke="#5a0a05" stroke-width="1" stroke-linecap="butt"/>
<text x="467.3" y="243.9" font-size="8.6" fill="#262626" color="#262626" font-style="italic">p</text>
<text x="472.08" y="243.9" font-size="8.6" fill="#262626" color="#262626" textLength="34.72" lengthAdjust="spacingAndGlyphs"> = 0.034</text>
<polygon points="487.9,247.9 488.55,250.31 491.04,250.18 488.95,251.54 489.84,253.87 487.9,252.3 485.96,253.87 486.85,251.54 484.76,250.18 487.25,250.31" fill="#262626"/>
<text x="441.6" y="325.5" font-size="8.3" fill="#262626" color="#262626" text-anchor="middle" textLength="20.2" lengthAdjust="spacingAndGlyphs">Non-</text>
<text x="440.5" y="336" font-size="8.3" fill="#262626" color="#262626" text-anchor="middle" textLength="41.4" lengthAdjust="spacingAndGlyphs">cancerous</text>
<text x="441" y="346.7" font-size="8.3" fill="#262626" color="#262626" text-anchor="middle" textLength="51.9" lengthAdjust="spacingAndGlyphs">Lung Disease</text>
<text x="441.2" y="357.2" font-size="8.3" fill="#262626" color="#262626" text-anchor="middle" textLength="25.2" lengthAdjust="spacingAndGlyphs">(n=12)</text>
<text x="489.6" y="325.5" font-size="8.3" fill="#262626" color="#262626" text-anchor="middle" textLength="19.8" lengthAdjust="spacingAndGlyphs">Lung</text>
<text x="489" y="336" font-size="8.3" fill="#262626" color="#262626" text-anchor="middle" textLength="28.8" lengthAdjust="spacingAndGlyphs">Cancer</text>
<text x="489.4" y="346.7" font-size="8.3" fill="#262626" color="#262626" text-anchor="middle" textLength="34.7" lengthAdjust="spacingAndGlyphs">(n=1746)</text>
<text x="10" y="395.1" font-size="14.4" fill="#262626" color="#262626">F</text>
<line x1="34.5" y1="407.1" x2="34.5" y2="517.3" stroke="#8c8c8c" stroke-width="1" stroke-linecap="butt"/>
<line x1="31.2" y1="517.5" x2="34.2" y2="517.5" stroke="#8c8c8c" stroke-width="1" stroke-linecap="butt"/>
<text x="28.6" y="520.6" font-size="9.2" fill="#262626" color="#262626" text-anchor="end">0</text>
<line x1="31.2" y1="489.5" x2="34.2" y2="489.5" stroke="#8c8c8c" stroke-width="1" stroke-linecap="butt"/>
<text x="28.6" y="493.05" font-size="9.2" fill="#262626" color="#262626" text-anchor="end">10</text>
<line x1="31.2" y1="462.5" x2="34.2" y2="462.5" stroke="#8c8c8c" stroke-width="1" stroke-linecap="butt"/>
<text x="28.6" y="465.5" font-size="9.2" fill="#262626" color="#262626" text-anchor="end">20</text>
<line x1="31.2" y1="434.5" x2="34.2" y2="434.5" stroke="#8c8c8c" stroke-width="1" stroke-linecap="butt"/>
<text x="28.6" y="437.95" font-size="9.2" fill="#262626" color="#262626" text-anchor="end">30</text>
<line x1="31.2" y1="407.5" x2="34.2" y2="407.5" stroke="#8c8c8c" stroke-width="1" stroke-linecap="butt"/>
<text x="28.6" y="410.4" font-size="9.2" fill="#262626" color="#262626" text-anchor="end">40</text>
<text x="10.4" y="462.8" font-size="9.1" fill="#262626" color="#262626" text-anchor="middle" textLength="120.7" lengthAdjust="spacingAndGlyphs" transform="rotate(-90 10.4 462.8)">Transcript Per Million (TPM)</text>
<line x1="34.2" y1="517.5" x2="219.5" y2="517.5" stroke="#8c8c8c" stroke-width="1" stroke-linecap="butt"/>
<line x1="80.5" y1="423.4" x2="80.5" y2="471.9" stroke="#8e8e8e" stroke-width="1" stroke-dasharray="1 1" stroke-linecap="butt"/>
<line x1="80.5" y1="505.9" x2="80.5" y2="514.3" stroke="#8e8e8e" stroke-width="1" stroke-dasharray="1 1" stroke-linecap="butt"/>
<line x1="69.95" y1="423.5" x2="91.85" y2="423.5" stroke="#8e8e8e" stroke-width="1" stroke-linecap="butt"/>
<line x1="69.95" y1="514.5" x2="91.85" y2="514.5" stroke="#8e8e8e" stroke-width="1" stroke-linecap="butt"/>
<rect x="58.3" y="471.9" width="45.6" height="34" fill="#5c6cf0" stroke="none" stroke-width="1"/>
<line x1="58.3" y1="496.5" x2="103.9" y2="496.5" stroke="#101040" stroke-width="1.2" stroke-linecap="butt"/>
<line x1="173.5" y1="507.3" x2="173.5" y2="512.2" stroke="#8e8e8e" stroke-width="1" stroke-dasharray="1 1" stroke-linecap="butt"/>
<line x1="173.5" y1="515.7" x2="173.5" y2="517" stroke="#8e8e8e" stroke-width="1" stroke-dasharray="1 1" stroke-linecap="butt"/>
<line x1="162.15" y1="507.5" x2="184.05" y2="507.5" stroke="#8e8e8e" stroke-width="1" stroke-linecap="butt"/>
<line x1="162.15" y1="517.5" x2="184.05" y2="517.5" stroke="#8e8e8e" stroke-width="1" stroke-linecap="butt"/>
<rect x="150.8" y="512.2" width="45" height="3.5" fill="#f23b1b" stroke="none" stroke-width="1"/>
<line x1="150.8" y1="514.5" x2="195.8" y2="514.5" stroke="#5a1208" stroke-width="1" stroke-linecap="butt"/>
<text x="81.7" y="530.3" font-size="9.5" fill="#262626" color="#262626" text-anchor="middle" textLength="33.1" lengthAdjust="spacingAndGlyphs">Normal</text>
<text x="81.6" y="542.2" font-size="9.5" fill="#262626" color="#262626" text-anchor="middle" textLength="29.3" lengthAdjust="spacingAndGlyphs">(n=59)</text>
<text x="174.7" y="529.8" font-size="9.5" fill="#262626" color="#262626" text-anchor="middle" textLength="65" lengthAdjust="spacingAndGlyphs">Primary Tumor</text>
<text x="174.4" y="541.8" font-size="9.5" fill="#262626" color="#262626" text-anchor="middle" textLength="34.8" lengthAdjust="spacingAndGlyphs">(n=515)</text>
<text x="128" y="558.8" font-size="9.5" fill="#262626" color="#262626" text-anchor="middle" textLength="67.3" lengthAdjust="spacingAndGlyphs">TCGA Samples</text>
<text x="136.6" y="488" font-size="8.6" fill="#262626" color="#262626" textLength="5.2" lengthAdjust="spacingAndGlyphs" font-style="italic">p</text>
<text x="141.8" y="488" font-size="8.6" fill="#262626" color="#262626" textLength="49.13" lengthAdjust="spacingAndGlyphs"> = 2.18 x 10</text>
<text x="191.23" y="484.1" font-size="6" fill="#262626" color="#262626" textLength="8.94" lengthAdjust="spacingAndGlyphs">-11</text>
<polygon points="162.14,495.8 162.78,498.21 165.28,498.08 163.18,499.44 164.08,501.77 162.14,500.2 160.2,501.77 161.09,499.44 159,498.08 161.49,498.21" fill="#262626"/>
<polygon points="168.95,495.8 169.59,498.21 172.08,498.08 169.99,499.44 170.89,501.77 168.95,500.2 167.01,501.77 167.9,499.44 165.81,498.08 168.3,498.21" fill="#262626"/>
<polygon points="175.75,495.8 176.4,498.21 178.89,498.08 176.8,499.44 177.69,501.77 175.75,500.2 173.81,501.77 174.71,499.44 172.62,498.08 175.11,498.21" fill="#262626"/>
<polygon points="182.56,495.8 183.21,498.21 185.7,498.08 183.61,499.44 184.5,501.77 182.56,500.2 180.62,501.77 181.52,499.44 179.42,498.08 181.92,498.21" fill="#262626"/>
<text x="218.9" y="396.6" font-size="14" fill="#262626" color="#262626">G</text>
<line x1="253.5" y1="406.8" x2="253.5" y2="516.4" stroke="#8c8c8c" stroke-width="1" stroke-linecap="butt"/>
<line x1="250" y1="516.5" x2="253" y2="516.5" stroke="#8c8c8c" stroke-width="1" stroke-linecap="butt"/>
<text x="248" y="519.7" font-size="9.2" fill="#262626" color="#262626" text-anchor="end">0</text>
<line x1="250" y1="489.5" x2="253" y2="489.5" stroke="#8c8c8c" stroke-width="1" stroke-linecap="butt"/>
<text x="248" y="492.3" font-size="9.2" fill="#262626" color="#262626" text-anchor="end">10</text>
<line x1="250" y1="461.5" x2="253" y2="461.5" stroke="#8c8c8c" stroke-width="1" stroke-linecap="butt"/>
<text x="248" y="464.9" font-size="9.2" fill="#262626" color="#262626" text-anchor="end">20</text>
<line x1="250" y1="434.5" x2="253" y2="434.5" stroke="#8c8c8c" stroke-width="1" stroke-linecap="butt"/>
<text x="248" y="437.5" font-size="9.2" fill="#262626" color="#262626" text-anchor="end">30</text>
<line x1="250" y1="406.5" x2="253" y2="406.5" stroke="#8c8c8c" stroke-width="1" stroke-linecap="butt"/>
<text x="248" y="410.1" font-size="9.2" fill="#262626" color="#262626" text-anchor="end">40</text>
<text x="230.5" y="461.1" font-size="9.1" fill="#262626" color="#262626" text-anchor="middle" textLength="92.6" lengthAdjust="spacingAndGlyphs" transform="rotate(-90 230.5 461.1)">Transcript Per Million</text>
<line x1="253" y1="516.5" x2="436.2" y2="516.5" stroke="#8c8c8c" stroke-width="1" stroke-linecap="butt"/>
<line x1="271.5" y1="423.4" x2="271.5" y2="470.9" stroke="#8e8e8e" stroke-width="1" stroke-dasharray="1 1" stroke-linecap="butt"/>
<line x1="271.5" y1="504.7" x2="271.5" y2="512.5" stroke="#8e8e8e" stroke-width="1" stroke-dasharray="1 1" stroke-linecap="butt"/>
<line x1="266.85" y1="423.5" x2="276.15" y2="423.5" stroke="#8e8e8e" stroke-width="1" stroke-linecap="butt"/>
<line x1="266.85" y1="512.5" x2="276.15" y2="512.5" stroke="#8e8e8e" stroke-width="1" stroke-linecap="butt"/>
<rect x="262.3" y="470.9" width="18.4" height="33.8" fill="#5c6cf0" stroke="none" stroke-width="1"/>
<line x1="262.3" y1="495.5" x2="280.7" y2="495.5" stroke="#101040" stroke-width="1.2" stroke-linecap="butt"/>
<line x1="307.5" y1="506.4" x2="307.5" y2="511.1" stroke="#8e8e8e" stroke-width="1" stroke-linecap="butt"/>
<line x1="307.5" y1="514" x2="307.5" y2="516" stroke="#8e8e8e" stroke-width="1" stroke-linecap="butt"/>
<line x1="303" y1="506.5" x2="311.8" y2="506.5" stroke="#8e8e8e" stroke-width="1" stroke-linecap="butt"/>
<line x1="303" y1="516.5" x2="311.8" y2="516.5" stroke="#8e8e8e" stroke-width="1" stroke-linecap="butt"/>
<rect x="299" y="511.1" width="18.5" height="2.9" fill="#e88b2f" stroke="none" stroke-width="1"/>
<line x1="299" y1="512.5" x2="317.5" y2="512.5" stroke="#5e3510" stroke-width="0.8" stroke-linecap="butt"/>
<line x1="344.5" y1="505.4" x2="344.5" y2="511" stroke="#8e8e8e" stroke-width="1" stroke-linecap="butt"/>
<line x1="344.5" y1="514.2" x2="344.5" y2="516" stroke="#8e8e8e" stroke-width="1" stroke-linecap="butt"/>
<line x1="340.2" y1="505.5" x2="349" y2="505.5" stroke="#8e8e8e" stroke-width="1" stroke-linecap="butt"/>
<line x1="340.2" y1="516.5" x2="349" y2="516.5" stroke="#8e8e8e" stroke-width="1" stroke-linecap="butt"/>
<rect x="335.9" y="511" width="18" height="3.2" fill="#ad7039" stroke="none" stroke-width="1"/>
<line x1="335.9" y1="512.5" x2="353.9" y2="512.5" stroke="#55361a" stroke-width="0.8" stroke-linecap="butt"/>
<line x1="381.5" y1="508" x2="381.5" y2="511.5" stroke="#8e8e8e" stroke-width="1" stroke-linecap="butt"/>
<line x1="381.5" y1="514.2" x2="381.5" y2="516" stroke="#8e8e8e" stroke-width="1" stroke-linecap="butt"/>
<line x1="377" y1="508.5" x2="385.8" y2="508.5" stroke="#8e8e8e" stroke-width="1" stroke-linecap="butt"/>
<line x1="377" y1="516.5" x2="385.8" y2="516.5" stroke="#8e8e8e" stroke-width="1" stroke-linecap="butt"/>
<rect x="372.3" y="511.5" width="18.4" height="2.7" fill="#aee833" stroke="none" stroke-width="1"/>
<line x1="372.3" y1="512.5" x2="390.7" y2="512.5" stroke="#4a5a12" stroke-width="0.8" stroke-linecap="butt"/>
<line x1="417.5" y1="510.3" x2="417.5" y2="512.7" stroke="#8e8e8e" stroke-width="1" stroke-linecap="butt"/>
<line x1="417.5" y1="514.5" x2="417.5" y2="516" stroke="#8e8e8e" stroke-width="1" stroke-linecap="butt"/>
<line x1="413.4" y1="510.5" x2="422.2" y2="510.5" stroke="#8e8e8e" stroke-width="1" stroke-linecap="butt"/>
<line x1="413.4" y1="516.5" x2="422.2" y2="516.5" stroke="#8e8e8e" stroke-width="1" stroke-linecap="butt"/>
<rect x="409" y="512.7" width="18.1" height="1.8" fill="#f23b1b" stroke="none" stroke-width="1"/>
<line x1="409" y1="513.5" x2="427.1" y2="513.5" stroke="#5a1208" stroke-width="0.6" stroke-linecap="butt"/>
<text x="272.6" y="528.8" font-size="9.5" fill="#262626" color="#262626" text-anchor="middle" textLength="33.2" lengthAdjust="spacingAndGlyphs">Normal</text>
<text x="272.4" y="541" font-size="9.5" fill="#262626" color="#262626" text-anchor="middle" textLength="29.2" lengthAdjust="spacingAndGlyphs">(n=59)</text>
<text x="308.1" y="528.8" font-size="9.5" fill="#262626" color="#262626" text-anchor="middle" textLength="10.8" lengthAdjust="spacingAndGlyphs">S I</text>
<text x="308.1" y="541" font-size="9.5" fill="#262626" color="#262626" text-anchor="middle" textLength="34" lengthAdjust="spacingAndGlyphs">(n=277)</text>
<text x="345" y="528.8" font-size="9.5" fill="#262626" color="#262626" text-anchor="middle" textLength="14.3" lengthAdjust="spacingAndGlyphs">S II</text>
<text x="344.8" y="541" font-size="9.5" fill="#262626" color="#262626" text-anchor="middle" textLength="33.4" lengthAdjust="spacingAndGlyphs">(n=125)</text>
<text x="381.7" y="528.8" font-size="9.5" fill="#262626" color="#262626" text-anchor="middle" textLength="16.5" lengthAdjust="spacingAndGlyphs">S III</text>
<text x="382" y="541" font-size="9.5" fill="#262626" color="#262626" text-anchor="middle" textLength="28.9" lengthAdjust="spacingAndGlyphs">(n=85)</text>
<text x="418.7" y="528.8" font-size="9.5" fill="#262626" color="#262626" text-anchor="middle" textLength="17.5" lengthAdjust="spacingAndGlyphs">S IV</text>
<text x="418.8" y="541" font-size="9.5" fill="#262626" color="#262626" text-anchor="middle" textLength="28.6" lengthAdjust="spacingAndGlyphs">(n=28)</text>
<text x="343.5" y="558.5" font-size="9.5" fill="#262626" color="#262626" text-anchor="middle" textLength="66.9" lengthAdjust="spacingAndGlyphs">TCGA Samples</text>
<text x="313" y="422.4" font-size="8.6" fill="#262626" color="#262626" textLength="40" lengthAdjust="spacingAndGlyphs">S = Stage</text>
<text x="290" y="475.8" font-size="8.6" fill="#262626" color="#262626" font-style="italic">p</text>
<text x="294.78" y="475.8" font-size="8.6" fill="#262626" color="#262626" textLength="29.22" lengthAdjust="spacingAndGlyphs"> = 3.70</text>
<text x="292" y="488" font-size="8.6" fill="#262626" color="#262626" textLength="16.07" lengthAdjust="spacingAndGlyphs">x 10</text>
<text x="308.37" y="484.1" font-size="6" fill="#262626" color="#262626" textLength="8.13" lengthAdjust="spacingAndGlyphs">-11</text>
<polygon points="296.94,495.4 297.58,497.81 300.08,497.68 297.98,499.04 298.88,501.37 296.94,499.8 295,501.37 295.89,499.04 293.8,497.68 296.29,497.81" fill="#262626"/>
<polygon points="303.91,495.4 304.56,497.81 307.05,497.68 304.96,499.04 305.85,501.37 303.91,499.8 301.97,501.37 302.87,499.04 300.77,497.68 303.27,497.81" fill="#262626"/>
<polygon points="310.89,495.4 311.53,497.81 314.03,497.68 311.93,499.04 312.83,501.37 310.89,499.8 308.95,501.37 309.84,499.04 307.75,497.68 310.24,497.81" fill="#262626"/>
<polygon points="317.86,495.4 318.51,497.81 321,497.68 318.91,499.04 319.8,501.37 317.86,499.8 315.92,501.37 316.82,499.04 314.72,497.68 317.22,497.81" fill="#262626"/>
<text x="327.6" y="462.2" font-size="8.6" fill="#262626" color="#262626" font-style="italic">p</text>
<text x="332.38" y="462.2" font-size="8.6" fill="#262626" color="#262626" textLength="29.72" lengthAdjust="spacingAndGlyphs"> = 2.15</text>
<text x="330.3" y="473.9" font-size="8.6" fill="#262626" color="#262626" textLength="16.07" lengthAdjust="spacingAndGlyphs">x 10</text>
<text x="346.67" y="470" font-size="6" fill="#262626" color="#262626" textLength="8.13" lengthAdjust="spacingAndGlyphs">-11</text>
<polygon points="333.44,495.4 334.08,497.81 336.58,497.68 334.48,499.04 335.38,501.37 333.44,499.8 331.5,501.37 332.39,499.04 330.3,497.68 332.79,497.81" fill="#262626"/>
<polygon points="340.21,495.4 340.86,497.81 343.35,497.68 341.26,499.04 342.15,501.37 340.21,499.8 338.27,501.37 339.17,499.04 337.07,497.68 339.57,497.81" fill="#262626"/>
<polygon points="346.99,495.4 347.63,497.81 350.13,497.68 348.03,499.04 348.93,501.37 346.99,499.8 345.05,501.37 345.94,499.04 343.85,497.68 346.34,497.81" fill="#262626"/>
<polygon points="353.76,495.4 354.41,497.81 356.9,497.68 354.81,499.04 355.7,501.37 353.76,499.8 351.82,501.37 352.72,499.04 350.62,497.68 353.12,497.81" fill="#262626"/>
<text x="364.4" y="447.3" font-size="8.6" fill="#262626" color="#262626" font-style="italic">p</text>
<text x="369.18" y="447.3" font-size="8.6" fill="#262626" color="#262626" textLength="29.72" lengthAdjust="spacingAndGlyphs"> = 1.20</text>
<text x="367" y="459" font-size="8.6" fill="#262626" color="#262626" textLength="16.07" lengthAdjust="spacingAndGlyphs">x 10</text>
<text x="383.37" y="455.1" font-size="6" fill="#262626" color="#262626" textLength="8.13" lengthAdjust="spacingAndGlyphs">-11</text>
<polygon points="369.34,498.9 369.98,501.31 372.48,501.18 370.38,502.54 371.28,504.87 369.34,503.3 367.4,504.87 368.29,502.54 366.2,501.18 368.69,501.31" fill="#262626"/>
<polygon points="375.98,498.9 376.63,501.31 379.12,501.18 377.03,502.54 377.92,504.87 375.98,503.3 374.04,504.87 374.93,502.54 372.84,501.18 375.33,501.31" fill="#262626"/>
<polygon points="382.62,498.9 383.27,501.31 385.76,501.18 383.67,502.54 384.56,504.87 382.62,503.3 380.68,504.87 381.57,502.54 379.48,501.18 381.97,501.31" fill="#262626"/>
<polygon points="389.26,498.9 389.91,501.31 392.4,501.18 390.31,502.54 391.2,504.87 389.26,503.3 387.32,504.87 388.22,502.54 386.12,501.18 388.62,501.31" fill="#262626"/>
<text x="399.4" y="432.8" font-size="8.6" fill="#262626" color="#262626" font-style="italic">p</text>
<text x="404.18" y="432.8" font-size="8.6" fill="#262626" color="#262626" textLength="29.42" lengthAdjust="spacingAndGlyphs"> = 3.22</text>
<text x="403" y="444.2" font-size="8.6" fill="#262626" color="#262626" textLength="17.4" lengthAdjust="spacingAndGlyphs">x 10</text>
<text x="420.7" y="440.3" font-size="6" fill="#262626" color="#262626" textLength="9.28" lengthAdjust="spacingAndGlyphs">-12</text>
<polygon points="407.34,499.2 407.98,501.61 410.48,501.48 408.38,502.84 409.28,505.17 407.34,503.6 405.4,505.17 406.29,502.84 404.2,501.48 406.69,501.61" fill="#262626"/>
<polygon points="414.05,499.2 414.69,501.61 417.18,501.48 415.09,502.84 415.99,505.17 414.05,503.6 412.11,505.17 413,502.84 410.91,501.48 413.4,501.61" fill="#262626"/>
<polygon points="420.75,499.2 421.4,501.61 423.89,501.48 421.8,502.84 422.69,505.17 420.75,503.6 418.81,505.17 419.71,502.84 417.62,501.48 420.11,501.61" fill="#262626"/>
<polygon points="427.46,499.2 428.11,501.61 430.6,501.48 428.51,502.84 429.4,505.17 427.46,503.6 425.52,505.17 426.42,502.84 424.32,501.48 426.82,501.61" fill="#262626"/>
<text x="463.6" y="394.2" font-size="15" fill="#262626" color="#262626">H</text>
<line x1="486.5" y1="405.1" x2="486.5" y2="515.5" stroke="#8c8c8c" stroke-width="1" stroke-linecap="butt"/>
<line x1="483.5" y1="515.5" x2="486.5" y2="515.5" stroke="#8c8c8c" stroke-width="1" stroke-linecap="butt"/>
<text x="481.3" y="518.8" font-size="9.2" fill="#262626" color="#262626" text-anchor="end">0</text>
<line x1="483.5" y1="487.5" x2="486.5" y2="487.5" stroke="#8c8c8c" stroke-width="1" stroke-linecap="butt"/>
<text x="481.3" y="491.2" font-size="9.2" fill="#262626" color="#262626" text-anchor="end">10</text>
<line x1="483.5" y1="460.5" x2="486.5" y2="460.5" stroke="#8c8c8c" stroke-width="1" stroke-linecap="butt"/>
<text x="481.3" y="463.6" font-size="9.2" fill="#262626" color="#262626" text-anchor="end">20</text>
<line x1="483.5" y1="432.5" x2="486.5" y2="432.5" stroke="#8c8c8c" stroke-width="1" stroke-linecap="butt"/>
<text x="481.3" y="436" font-size="9.2" fill="#262626" color="#262626" text-anchor="end">30</text>
<line x1="483.5" y1="405.5" x2="486.5" y2="405.5" stroke="#8c8c8c" stroke-width="1" stroke-linecap="butt"/>
<text x="481.3" y="408.4" font-size="9.2" fill="#262626" color="#262626" text-anchor="end">40</text>
<text x="464.2" y="459.3" font-size="9.1" fill="#262626" color="#262626" text-anchor="middle" textLength="92.2" lengthAdjust="spacingAndGlyphs" transform="rotate(-90 464.2 459.3)">Transcript Per Million</text>
<line x1="486.5" y1="515.5" x2="669.7" y2="515.5" stroke="#8c8c8c" stroke-width="1" stroke-linecap="butt"/>
<line x1="504.5" y1="421.7" x2="504.5" y2="470" stroke="#999" stroke-width="1" stroke-dasharray="1 1" stroke-linecap="butt"/>
<line x1="504.5" y1="503.8" x2="504.5" y2="512.2" stroke="#999" stroke-width="1" stroke-dasharray="1 1" stroke-linecap="butt"/>
<line x1="500.25" y1="421.5" x2="508.95" y2="421.5" stroke="#999" stroke-width="1" stroke-linecap="butt"/>
<line x1="500.25" y1="512.5" x2="508.95" y2="512.5" stroke="#999" stroke-width="1" stroke-linecap="butt"/>
<rect x="495.8" y="470" width="18" height="33.8" fill="#5c6cf0" stroke="none" stroke-width="1"/>
<line x1="495.8" y1="494.5" x2="513.8" y2="494.5" stroke="#202060" stroke-width="1.2" stroke-linecap="butt"/>
<line x1="541.5" y1="505.2" x2="541.5" y2="510.8" stroke="#888" stroke-width="1" stroke-linecap="butt"/>
<line x1="541.5" y1="513.4" x2="541.5" y2="515" stroke="#888" stroke-width="1" stroke-linecap="butt"/>
<line x1="537.2" y1="505.5" x2="546" y2="505.5" stroke="#888" stroke-width="1" stroke-linecap="butt"/>
<line x1="537.2" y1="515.5" x2="546" y2="515.5" stroke="#888" stroke-width="1" stroke-linecap="butt"/>
<rect x="532.6" y="510.8" width="18.4" height="2.6" fill="#e88b2f" stroke="none" stroke-width="1"/>
<line x1="532.6" y1="512.5" x2="551" y2="512.5" stroke="#5e3510" stroke-width="0.8" stroke-linecap="butt"/>
<line x1="578.5" y1="506.3" x2="578.5" y2="511" stroke="#888" stroke-width="1" stroke-linecap="butt"/>
<line x1="578.5" y1="513.6" x2="578.5" y2="515" stroke="#888" stroke-width="1" stroke-linecap="butt"/>
<line x1="573.9" y1="506.5" x2="582.7" y2="506.5" stroke="#888" stroke-width="1" stroke-linecap="butt"/>
<line x1="573.9" y1="515.5" x2="582.7" y2="515.5" stroke="#888" stroke-width="1" stroke-linecap="butt"/>
<rect x="569" y="511" width="18.4" height="2.6" fill="#ad7039" stroke="none" stroke-width="1"/>
<line x1="569" y1="512.5" x2="587.4" y2="512.5" stroke="#55361a" stroke-width="0.8" stroke-linecap="butt"/>
<line x1="615.5" y1="508" x2="615.5" y2="511.2" stroke="#888" stroke-width="1" stroke-linecap="butt"/>
<line x1="615.5" y1="513.8" x2="615.5" y2="515" stroke="#888" stroke-width="1" stroke-linecap="butt"/>
<line x1="610.6" y1="508.5" x2="619.4" y2="508.5" stroke="#888" stroke-width="1" stroke-linecap="butt"/>
<line x1="610.6" y1="515.5" x2="619.4" y2="515.5" stroke="#888" stroke-width="1" stroke-linecap="butt"/>
<rect x="605.8" y="511.2" width="18.4" height="2.6" fill="#aee833" stroke="none" stroke-width="1"/>
<line x1="605.8" y1="512.5" x2="624.2" y2="512.5" stroke="#4a5a12" stroke-width="0.8" stroke-linecap="butt"/>
<line x1="642.9" y1="513.5" x2="661" y2="513.5" stroke="#5a3a2a" stroke-width="1.1" stroke-linecap="butt"/>
<text x="506.3" y="528" font-size="9.5" fill="#262626" color="#262626" text-anchor="middle" textLength="32.9" lengthAdjust="spacingAndGlyphs">Normal</text>
<text x="505.4" y="539.8" font-size="9.5" fill="#262626" color="#262626" text-anchor="middle" textLength="29.2" lengthAdjust="spacingAndGlyphs">(n=59)</text>
<text x="542.7" y="528" font-size="9.5" fill="#262626" color="#262626" text-anchor="middle" textLength="15.6" lengthAdjust="spacingAndGlyphs">N 0</text>
<text x="542.5" y="539.8" font-size="9.5" fill="#262626" color="#262626" text-anchor="middle" textLength="35.1" lengthAdjust="spacingAndGlyphs">(n=331)</text>
<text x="579" y="528" font-size="9.5" fill="#262626" color="#262626" text-anchor="middle" textLength="14.3" lengthAdjust="spacingAndGlyphs">N 1</text>
<text x="579.5" y="539.8" font-size="9.5" fill="#262626" color="#262626" text-anchor="middle" textLength="28.3" lengthAdjust="spacingAndGlyphs">(n=96)</text>
<text x="615.4" y="528" font-size="9.5" fill="#262626" color="#262626" text-anchor="middle" textLength="15.1" lengthAdjust="spacingAndGlyphs">N 2</text>
<text x="615.2" y="539.8" font-size="9.5" fill="#262626" color="#262626" text-anchor="middle" textLength="28.4" lengthAdjust="spacingAndGlyphs">(n=74)</text>
<text x="652" y="528" font-size="9.5" fill="#262626" color="#262626" text-anchor="middle" textLength="15.7" lengthAdjust="spacingAndGlyphs">N 3</text>
<text x="651.8" y="539.8" font-size="9.5" fill="#262626" color="#262626" text-anchor="middle" textLength="23.2" lengthAdjust="spacingAndGlyphs">(n=2)</text>
<text x="571.8" y="554.3" font-size="9.5" fill="#262626" color="#262626" text-anchor="middle" textLength="66.7" lengthAdjust="spacingAndGlyphs">TCGA Samples</text>
<text x="522.9" y="475.8" font-size="8.6" fill="#262626" color="#262626" font-style="italic">p</text>
<text x="527.68" y="475.8" font-size="8.6" fill="#262626" color="#262626" textLength="29.42" lengthAdjust="spacingAndGlyphs"> = 3.54</text>
<text x="525.9" y="488" font-size="8.6" fill="#262626" color="#262626" textLength="16.07" lengthAdjust="spacingAndGlyphs">x 10</text>
<text x="542.27" y="484.1" font-size="6" fill="#262626" color="#262626" textLength="8.13" lengthAdjust="spacingAndGlyphs">-11</text>
<polygon points="530.44,494 531.08,496.41 533.58,496.28 531.48,497.64 532.38,499.97 530.44,498.4 528.5,499.97 529.39,497.64 527.3,496.28 529.79,496.41" fill="#262626"/>
<polygon points="537.41,494 538.06,496.41 540.55,496.28 538.46,497.64 539.35,499.97 537.41,498.4 535.47,499.97 536.37,497.64 534.27,496.28 536.77,496.41" fill="#262626"/>
<polygon points="544.39,494 545.03,496.41 547.53,496.28 545.43,497.64 546.33,499.97 544.39,498.4 542.45,499.97 543.34,497.64 541.25,496.28 543.74,496.41" fill="#262626"/>
<polygon points="551.36,494 552.01,496.41 554.5,496.28 552.41,497.64 553.3,499.97 551.36,498.4 549.42,499.97 550.32,497.64 548.22,496.28 550.72,496.41" fill="#262626"/>
<text x="559.9" y="462.2" font-size="8.6" fill="#262626" color="#262626" font-style="italic">p</text>
<text x="564.68" y="462.2" font-size="8.6" fill="#262626" color="#262626" textLength="29.72" lengthAdjust="spacingAndGlyphs"> = 7.53</text>
<text x="562.9" y="473.9" font-size="8.6" fill="#262626" color="#262626" textLength="16.5" lengthAdjust="spacingAndGlyphs">x 10</text>
<text x="579.7" y="470" font-size="6" fill="#262626" color="#262626" textLength="8.8" lengthAdjust="spacingAndGlyphs">-12</text>
<polygon points="566.94,494.5 567.58,496.91 570.08,496.78 567.98,498.14 568.88,500.47 566.94,498.9 565,500.47 565.89,498.14 563.8,496.78 566.29,496.91" fill="#262626"/>
<polygon points="573.58,494.5 574.23,496.91 576.72,496.78 574.63,498.14 575.52,500.47 573.58,498.9 571.64,500.47 572.53,498.14 570.44,496.78 572.93,496.91" fill="#262626"/>
<polygon points="580.22,494.5 580.87,496.91 583.36,496.78 581.27,498.14 582.16,500.47 580.22,498.9 578.28,500.47 579.17,498.14 577.08,496.78 579.57,496.91" fill="#262626"/>
<polygon points="586.86,494.5 587.51,496.91 590,496.78 587.91,498.14 588.8,500.47 586.86,498.9 584.92,500.47 585.82,498.14 583.72,496.78 586.22,496.91" fill="#262626"/>
<text x="596.7" y="447.7" font-size="8.6" fill="#262626" color="#262626" font-style="italic">p</text>
<text x="601.48" y="447.7" font-size="8.6" fill="#262626" color="#262626" textLength="29.72" lengthAdjust="spacingAndGlyphs"> = 1.67</text>
<text x="599.7" y="459" font-size="8.6" fill="#262626" color="#262626" textLength="16.27" lengthAdjust="spacingAndGlyphs">x 10</text>
<text x="616.27" y="455.1" font-size="6" fill="#262626" color="#262626" textLength="8.23" lengthAdjust="spacingAndGlyphs">-11</text>
<polygon points="603.34,497.1 603.98,499.51 606.48,499.38 604.38,500.74 605.28,503.07 603.34,501.5 601.4,503.07 602.29,500.74 600.2,499.38 602.69,499.51" fill="#262626"/>
<polygon points="610.11,497.1 610.76,499.51 613.25,499.38 611.16,500.74 612.05,503.07 610.11,501.5 608.17,503.07 609.07,500.74 606.97,499.38 609.47,499.51" fill="#262626"/>
<polygon points="616.89,497.1 617.53,499.51 620.03,499.38 617.93,500.74 618.83,503.07 616.89,501.5 614.95,503.07 615.84,500.74 613.75,499.38 616.24,499.51" fill="#262626"/>
<polygon points="623.66,497.1 624.31,499.51 626.8,499.38 624.71,500.74 625.6,503.07 623.66,501.5 621.72,503.07 622.62,500.74 620.52,499.38 623.02,499.51" fill="#262626"/>
<text x="631.5" y="432.8" font-size="8.6" fill="#262626" color="#262626" font-style="italic">p</text>
<text x="636.28" y="432.8" font-size="8.6" fill="#262626" color="#262626" textLength="29.92" lengthAdjust="spacingAndGlyphs"> = 2.20</text>
<text x="635" y="444.2" font-size="8.6" fill="#262626" color="#262626" textLength="17.53" lengthAdjust="spacingAndGlyphs">x 10</text>
<text x="652.83" y="440.3" font-size="6" fill="#262626" color="#262626" textLength="9.35" lengthAdjust="spacingAndGlyphs">-12</text>
<polygon points="640.44,501.5 641.08,503.91 643.58,503.78 641.48,505.14 642.38,507.47 640.44,505.9 638.5,507.47 639.39,505.14 637.3,503.78 639.79,503.91" fill="#262626"/>
<polygon points="647.21,501.5 647.86,503.91 650.35,503.78 648.26,505.14 649.15,507.47 647.21,505.9 645.27,507.47 646.17,505.14 644.07,503.78 646.57,503.91" fill="#262626"/>
<polygon points="653.99,501.5 654.63,503.91 657.13,503.78 655.03,505.14 655.93,507.47 653.99,505.9 652.05,507.47 652.94,505.14 650.85,503.78 653.34,503.91" fill="#262626"/>
<polygon points="660.76,501.5 661.41,503.91 663.9,503.78 661.81,505.14 662.7,507.47 660.76,505.9 658.82,507.47 659.72,505.14 657.62,503.78 660.12,503.91" fill="#262626"/>
<rect x="9.7" y="623.1" width="2.1" height="9.7" fill="#222" stroke="none" stroke-width="1"/>
<line x1="29.5" y1="640.6" x2="29.5" y2="759.5" stroke="#8c8c8c" stroke-width="1" stroke-linecap="butt"/>
<line x1="26.5" y1="759.5" x2="29.5" y2="759.5" stroke="#8c8c8c" stroke-width="1" stroke-linecap="butt"/>
<text x="24.2" y="762.7" font-size="9.5" fill="#262626" color="#262626" text-anchor="end">-4</text>
<line x1="26.5" y1="734.5" x2="29.5" y2="734.5" stroke="#8c8c8c" stroke-width="1" stroke-linecap="butt"/>
<text x="24.2" y="737.5" font-size="9.5" fill="#262626" color="#262626" text-anchor="end">-2</text>
<line x1="26.5" y1="708.5" x2="29.5" y2="708.5" stroke="#8c8c8c" stroke-width="1" stroke-linecap="butt"/>
<text x="24.2" y="712.3" font-size="9.5" fill="#262626" color="#262626" text-anchor="end">0</text>
<line x1="26.5" y1="683.5" x2="29.5" y2="683.5" stroke="#8c8c8c" stroke-width="1" stroke-linecap="butt"/>
<text x="24.2" y="687.1" font-size="9.5" fill="#262626" color="#262626" text-anchor="end">2</text>
<line x1="26.5" y1="658.5" x2="29.5" y2="658.5" stroke="#8c8c8c" stroke-width="1" stroke-linecap="butt"/>
<text x="24.2" y="661.9" font-size="9.5" fill="#262626" color="#262626" text-anchor="end">4</text>
<text x="12.6" y="698.1" font-size="9.2" fill="#262626" color="#262626" text-anchor="middle" textLength="33.4" lengthAdjust="spacingAndGlyphs" transform="rotate(-90 12.6 698.1)">Z-Value</text>
<line x1="29.5" y1="759.5" x2="222.5" y2="759.5" stroke="#8c8c8c" stroke-width="1" stroke-linecap="butt"/>
<line x1="78.5" y1="644.2" x2="78.5" y2="669" stroke="#555" stroke-width="1" stroke-dasharray="1 1" stroke-linecap="butt"/>
<line x1="78.5" y1="686.7" x2="78.5" y2="713.3" stroke="#555" stroke-width="1" stroke-dasharray="1 1" stroke-linecap="butt"/>
<line x1="66.5" y1="644.5" x2="89.7" y2="644.5" stroke="#7a7a7a" stroke-width="1.1" stroke-linecap="butt"/>
<line x1="67.4" y1="713.5" x2="89.7" y2="713.5" stroke="#7a7a7a" stroke-width="1.1" stroke-linecap="butt"/>
<rect x="54.3" y="669" width="47.3" height="17.7" fill="none" stroke="#7a7a7a" stroke-width="1.1"/>
<line x1="54.8" y1="678.3" x2="101.1" y2="678.3" stroke="#222" stroke-width="1.3" stroke-linecap="butt"/>
<circle cx="66.2" cy="643.6" r="1.35" fill="#5d8fe0"/>
<circle cx="90.2" cy="645.9" r="1.35" fill="#5d8fe0"/>
<circle cx="60.4" cy="650.3" r="1.35" fill="#5d8fe0"/>
<circle cx="57.8" cy="652.6" r="1.35" fill="#5d8fe0"/>
<circle cx="66.5" cy="649.4" r="1.35" fill="#5d8fe0"/>
<circle cx="93.7" cy="651.2" r="1.35" fill="#5d8fe0"/>
<circle cx="87.6" cy="658.7" r="1.35" fill="#5d8fe0"/>
<circle cx="85.5" cy="659.9" r="1.35" fill="#5d8fe0"/>
<circle cx="83.2" cy="662.5" r="1.35" fill="#5d8fe0"/>
<circle cx="55.7" cy="663.4" r="1.35" fill="#5d8fe0"/>
<circle cx="92.5" cy="664.6" r="1.35" fill="#5d8fe0"/>
<circle cx="99.5" cy="666" r="1.35" fill="#5d8fe0"/>
<circle cx="59.5" cy="669.5" r="1.35" fill="#5d8fe0"/>
<circle cx="54.6" cy="670.8" r="1.35" fill="#5d8fe0"/>
<circle cx="85.8" cy="668.7" r="1.35" fill="#5d8fe0"/>
<circle cx="88.4" cy="669.5" r="1.35" fill="#5d8fe0"/>
<circle cx="90.2" cy="670.9" r="1.35" fill="#5d8fe0"/>
<circle cx="75.3" cy="671.6" r="1.35" fill="#5d8fe0"/>
<circle cx="63.4" cy="672.7" r="1.35" fill="#5d8fe0"/>
<circle cx="89.3" cy="672.7" r="1.35" fill="#5d8fe0"/>
<circle cx="99.5" cy="672.2" r="1.35" fill="#5d8fe0"/>
<circle cx="77.1" cy="674.8" r="1.35" fill="#5d8fe0"/>
<circle cx="56.4" cy="678" r="1.35" fill="#5d8fe0"/>
<circle cx="65.7" cy="678.3" r="1.35" fill="#5d8fe0"/>
<circle cx="80.9" cy="676.5" r="1.35" fill="#5d8fe0"/>
<circle cx="79.7" cy="678.3" r="1.35" fill="#5d8fe0"/>
<circle cx="91.1" cy="677.4" r="1.35" fill="#5d8fe0"/>
<circle cx="94.6" cy="676.9" r="1.35" fill="#5d8fe0"/>
<circle cx="58.7" cy="680.6" r="1.35" fill="#5d8fe0"/>
<circle cx="62.2" cy="680.9" r="1.35" fill="#5d8fe0"/>
<circle cx="63" cy="682.7" r="1.35" fill="#5d8fe0"/>
<circle cx="66.5" cy="683.2" r="1.35" fill="#5d8fe0"/>
<circle cx="75.7" cy="682.7" r="1.35" fill="#5d8fe0"/>
<circle cx="81.4" cy="683.6" r="1.35" fill="#5d8fe0"/>
<circle cx="91.1" cy="681.5" r="1.35" fill="#5d8fe0"/>
<circle cx="60.4" cy="687" r="1.35" fill="#5d8fe0"/>
<circle cx="67.9" cy="687" r="1.35" fill="#5d8fe0"/>
<circle cx="95.4" cy="685.3" r="1.35" fill="#5d8fe0"/>
<circle cx="99.5" cy="686.7" r="1.35" fill="#5d8fe0"/>
<circle cx="55.7" cy="691.4" r="1.35" fill="#5d8fe0"/>
<circle cx="65.7" cy="694.6" r="1.35" fill="#5d8fe0"/>
<circle cx="89.8" cy="692.8" r="1.35" fill="#5d8fe0"/>
<circle cx="63.9" cy="697.6" r="1.35" fill="#5d8fe0"/>
<circle cx="56" cy="700.5" r="1.35" fill="#5d8fe0"/>
<circle cx="75.3" cy="700.5" r="1.35" fill="#5d8fe0"/>
<circle cx="77.1" cy="699.3" r="1.35" fill="#5d8fe0"/>
<circle cx="83.2" cy="697.6" r="1.35" fill="#5d8fe0"/>
<circle cx="84.9" cy="699" r="1.35" fill="#5d8fe0"/>
<circle cx="86.2" cy="700.2" r="1.35" fill="#5d8fe0"/>
<circle cx="88.1" cy="703.3" r="1.35" fill="#5d8fe0"/>
<circle cx="67.4" cy="713.3" r="1.35" fill="#5d8fe0"/>
<circle cx="71.8" cy="712.8" r="1.35" fill="#5d8fe0"/>
<circle cx="97" cy="668" r="1.35" fill="#5d8fe0"/>
<circle cx="100" cy="675" r="1.35" fill="#5d8fe0"/>
<circle cx="70" cy="676" r="1.35" fill="#5d8fe0"/>
<circle cx="72" cy="683" r="1.35" fill="#5d8fe0"/>
<circle cx="86" cy="686" r="1.35" fill="#5d8fe0"/>
<circle cx="58" cy="675" r="1.35" fill="#5d8fe0"/>
<line x1="174.5" y1="681.3" x2="174.5" y2="698.3" stroke="#555" stroke-width="1" stroke-dasharray="1 1" stroke-linecap="butt"/>
<line x1="174.5" y1="713.2" x2="174.5" y2="735.4" stroke="#555" stroke-width="1" stroke-dasharray="1 1" stroke-linecap="butt"/>
<line x1="162" y1="681.5" x2="185.7" y2="681.5" stroke="#7a7a7a" stroke-width="1.1" stroke-linecap="butt"/>
<line x1="162.9" y1="735.5" x2="185.7" y2="735.5" stroke="#7a7a7a" stroke-width="1.1" stroke-linecap="butt"/>
<rect x="151.2" y="698.3" width="46.2" height="14.9" fill="none" stroke="#7a7a7a" stroke-width="1.1"/>
<line x1="151.7" y1="708.5" x2="196.9" y2="708.5" stroke="#333" stroke-width="1.3" stroke-linecap="butt"/>
<circle cx="156.8" cy="662.9" r="1.35" fill="#e0341c"/>
<circle cx="162" cy="681.1" r="1.35" fill="#e0341c"/>
<circle cx="150.6" cy="686.6" r="1.35" fill="#e0341c"/>
<circle cx="177.8" cy="686.4" r="1.35" fill="#e0341c"/>
<circle cx="152" cy="692.2" r="1.35" fill="#e0341c"/>
<circle cx="155.9" cy="692.5" r="1.35" fill="#e0341c"/>
<circle cx="159.4" cy="693.4" r="1.35" fill="#e0341c"/>
<circle cx="186.5" cy="690.4" r="1.35" fill="#e0341c"/>
<circle cx="188.7" cy="691.3" r="1.35" fill="#e0341c"/>
<circle cx="190.9" cy="693.9" r="1.35" fill="#e0341c"/>
<circle cx="190" cy="695.1" r="1.35" fill="#e0341c"/>
<circle cx="180.4" cy="695.7" r="1.35" fill="#e0341c"/>
<circle cx="182.2" cy="697.4" r="1.35" fill="#e0341c"/>
<circle cx="183.9" cy="697.9" r="1.35" fill="#e0341c"/>
<circle cx="185.7" cy="698.3" r="1.35" fill="#e0341c"/>
<circle cx="179.5" cy="696.5" r="1.35" fill="#e0341c"/>
<circle cx="155" cy="700" r="1.35" fill="#e0341c"/>
<circle cx="191.5" cy="700.9" r="1.35" fill="#e0341c"/>
<circle cx="153.3" cy="703.6" r="1.35" fill="#e0341c"/>
<circle cx="152.4" cy="706.2" r="1.35" fill="#e0341c"/>
<circle cx="162.9" cy="706.2" r="1.35" fill="#e0341c"/>
<circle cx="171.7" cy="705" r="1.35" fill="#e0341c"/>
<circle cx="172.2" cy="707.9" r="1.35" fill="#e0341c"/>
<circle cx="185.7" cy="707.9" r="1.35" fill="#e0341c"/>
<circle cx="195.7" cy="706.2" r="1.35" fill="#e0341c"/>
<circle cx="151.5" cy="710.6" r="1.35" fill="#e0341c"/>
<circle cx="156.8" cy="710.2" r="1.35" fill="#e0341c"/>
<circle cx="159.9" cy="711.4" r="1.35" fill="#e0341c"/>
<circle cx="161.7" cy="712.3" r="1.35" fill="#e0341c"/>
<circle cx="163.8" cy="708.8" r="1.35" fill="#e0341c"/>
<circle cx="173.4" cy="712.3" r="1.35" fill="#e0341c"/>
<circle cx="176.9" cy="711.4" r="1.35" fill="#e0341c"/>
<circle cx="179.5" cy="711.4" r="1.35" fill="#e0341c"/>
<circle cx="182.2" cy="712.7" r="1.35" fill="#e0341c"/>
<circle cx="187.4" cy="711.4" r="1.35" fill="#e0341c"/>
<circle cx="195.7" cy="710.9" r="1.35" fill="#e0341c"/>
<circle cx="155.9" cy="715.8" r="1.35" fill="#e0341c"/>
<circle cx="162.9" cy="714.1" r="1.35" fill="#e0341c"/>
<circle cx="162" cy="717.6" r="1.35" fill="#e0341c"/>
<circle cx="162.9" cy="720.7" r="1.35" fill="#e0341c"/>
<circle cx="172.5" cy="716.7" r="1.35" fill="#e0341c"/>
<circle cx="177.8" cy="719" r="1.35" fill="#e0341c"/>
<circle cx="187.1" cy="717.6" r="1.35" fill="#e0341c"/>
<circle cx="190.9" cy="720.2" r="1.35" fill="#e0341c"/>
<circle cx="195" cy="716.2" r="1.35" fill="#e0341c"/>
<circle cx="181.3" cy="728.1" r="1.35" fill="#e0341c"/>
<circle cx="184.4" cy="725.4" r="1.35" fill="#e0341c"/>
<circle cx="187.1" cy="726.7" r="1.35" fill="#e0341c"/>
<circle cx="186.2" cy="735.4" r="1.35" fill="#e0341c"/>
<circle cx="158" cy="709" r="1.35" fill="#e0341c"/>
<circle cx="168" cy="711" r="1.35" fill="#e0341c"/>
<circle cx="190" cy="713" r="1.35" fill="#e0341c"/>
<circle cx="166" cy="700" r="1.35" fill="#e0341c"/>
<text x="174.6" y="645.4" font-size="8.6" fill="#262626" color="#262626"></text>
<text x="138.4" y="645.4" font-size="8.6" fill="#262626" color="#262626" textLength="5.19" lengthAdjust="spacingAndGlyphs" font-style="italic">p</text>
<text x="143.59" y="645.4" font-size="8.6" fill="#262626" color="#262626" textLength="48.99" lengthAdjust="spacingAndGlyphs"> = 6.76 x 10</text>
<text x="192.87" y="641.5" font-size="6" fill="#262626" color="#262626" textLength="9.4" lengthAdjust="spacingAndGlyphs">-19</text>
<polygon points="161.34,654 161.98,656.41 164.48,656.28 162.38,657.64 163.28,659.97 161.34,658.4 159.4,659.97 160.29,657.64 158.2,656.28 160.69,656.41" fill="#262626"/>
<polygon points="168.11,654 168.76,656.41 171.25,656.28 169.16,657.64 170.05,659.97 168.11,658.4 166.17,659.97 167.07,657.64 164.97,656.28 167.47,656.41" fill="#262626"/>
<polygon points="174.89,654 175.53,656.41 178.03,656.28 175.93,657.64 176.83,659.97 174.89,658.4 172.95,659.97 173.84,657.64 171.75,656.28 174.24,656.41" fill="#262626"/>
<polygon points="181.66,654 182.31,656.41 184.8,656.28 182.71,657.64 183.6,659.97 181.66,658.4 179.72,659.97 180.62,657.64 178.52,656.28 181.02,656.41" fill="#262626"/>
<text x="78.1" y="771.7" font-size="9.6" fill="#262626" color="#262626" text-anchor="middle" textLength="34" lengthAdjust="spacingAndGlyphs">Normal</text>
<text x="78.1" y="783.4" font-size="9.6" fill="#262626" color="#262626" text-anchor="middle" textLength="34" lengthAdjust="spacingAndGlyphs">(n=111)</text>
<text x="173.6" y="771.2" font-size="9.6" fill="#262626" color="#262626" text-anchor="middle" textLength="65.1" lengthAdjust="spacingAndGlyphs">Primary Tumor</text>
<text x="173.3" y="783" font-size="9.6" fill="#262626" color="#262626" text-anchor="middle" textLength="34.2" lengthAdjust="spacingAndGlyphs">(n=111)</text>
<text x="121.3" y="798.7" font-size="9.6" fill="#262626" color="#262626" text-anchor="middle" textLength="72.7" lengthAdjust="spacingAndGlyphs">CPTAC Samples</text>
<line x1="255.5" y1="642.4" x2="255.5" y2="760.1" stroke="#8c8c8c" stroke-width="1" stroke-linecap="butt"/>
<line x1="252.4" y1="760.5" x2="255.4" y2="760.5" stroke="#8c8c8c" stroke-width="1" stroke-linecap="butt"/>
<text x="249.6" y="763.5" font-size="9.3" fill="#262626" color="#262626" text-anchor="end">-4</text>
<line x1="252.4" y1="735.5" x2="255.4" y2="735.5" stroke="#8c8c8c" stroke-width="1" stroke-linecap="butt"/>
<text x="249.6" y="738.3" font-size="9.3" fill="#262626" color="#262626" text-anchor="end">-2</text>
<line x1="252.4" y1="710.5" x2="255.4" y2="710.5" stroke="#8c8c8c" stroke-width="1" stroke-linecap="butt"/>
<text x="249.6" y="713.1" font-size="9.3" fill="#262626" color="#262626" text-anchor="end">0</text>
<line x1="252.4" y1="684.5" x2="255.4" y2="684.5" stroke="#8c8c8c" stroke-width="1" stroke-linecap="butt"/>
<text x="249.6" y="687.9" font-size="9.3" fill="#262626" color="#262626" text-anchor="end">2</text>
<line x1="252.4" y1="659.5" x2="255.4" y2="659.5" stroke="#8c8c8c" stroke-width="1" stroke-linecap="butt"/>
<text x="249.6" y="662.7" font-size="9.3" fill="#262626" color="#262626" text-anchor="end">4</text>
<text x="237.4" y="698.8" font-size="9.2" fill="#262626" color="#262626" text-anchor="middle" textLength="33.2" lengthAdjust="spacingAndGlyphs" transform="rotate(-90 237.4 698.8)">Z-Value</text>
<path d="M238.1,685.3 H239.5 V693 Q239.5,695.3 236.6,695.3" fill="none" stroke="#222" stroke-width="1"/>
<line x1="255.4" y1="760" x2="447.1" y2="760" stroke="#ababab" stroke-width="1.6" stroke-linecap="butt"/>
<line x1="255.5" y1="760.8" x2="255.5" y2="762.5" stroke="#aaa" stroke-width="0.8" stroke-linecap="butt"/>
<line x1="303.5" y1="760.8" x2="303.5" y2="762.5" stroke="#aaa" stroke-width="0.8" stroke-linecap="butt"/>
<line x1="351.5" y1="760.8" x2="351.5" y2="762.5" stroke="#aaa" stroke-width="0.8" stroke-linecap="butt"/>
<line x1="398.5" y1="760.8" x2="398.5" y2="762.5" stroke="#aaa" stroke-width="0.8" stroke-linecap="butt"/>
<line x1="279.5" y1="645.7" x2="279.5" y2="670.8" stroke="#555" stroke-width="1" stroke-dasharray="1 1" stroke-linecap="butt"/>
<line x1="279.5" y1="688.3" x2="279.5" y2="714.6" stroke="#555" stroke-width="1" stroke-dasharray="1 1" stroke-linecap="butt"/>
<line x1="273.2" y1="645.5" x2="285.4" y2="645.5" stroke="#666" stroke-width="1.1" stroke-linecap="butt"/>
<line x1="273.2" y1="714.5" x2="285.4" y2="714.5" stroke="#666" stroke-width="1.1" stroke-linecap="butt"/>
<rect x="267.6" y="670.8" width="23.9" height="17.5" fill="none" stroke="#666" stroke-width="1.1"/>
<line x1="268.1" y1="679.5" x2="291" y2="679.5" stroke="#222" stroke-width="1.2" stroke-linecap="butt"/>
<circle cx="273.49" cy="644.8" r="1.35" fill="#4a5ae6"/>
<circle cx="285.61" cy="647.1" r="1.35" fill="#4a5ae6"/>
<circle cx="270.56" cy="651.5" r="1.35" fill="#4a5ae6"/>
<circle cx="269.25" cy="653.8" r="1.35" fill="#4a5ae6"/>
<circle cx="273.64" cy="650.6" r="1.35" fill="#4a5ae6"/>
<circle cx="287.38" cy="652.4" r="1.35" fill="#4a5ae6"/>
<circle cx="284.3" cy="659.9" r="1.35" fill="#4a5ae6"/>
<circle cx="283.24" cy="661.1" r="1.35" fill="#4a5ae6"/>
<circle cx="282.07" cy="663.7" r="1.35" fill="#4a5ae6"/>
<circle cx="268.19" cy="664.6" r="1.35" fill="#4a5ae6"/>
<circle cx="286.77" cy="665.8" r="1.35" fill="#4a5ae6"/>
<circle cx="290.31" cy="667.2" r="1.35" fill="#4a5ae6"/>
<circle cx="270.11" cy="670.7" r="1.35" fill="#4a5ae6"/>
<circle cx="267.63" cy="672" r="1.35" fill="#4a5ae6"/>
<circle cx="283.39" cy="669.9" r="1.35" fill="#4a5ae6"/>
<circle cx="284.7" cy="670.7" r="1.35" fill="#4a5ae6"/>
<circle cx="285.61" cy="672.1" r="1.35" fill="#4a5ae6"/>
<circle cx="278.09" cy="672.8" r="1.35" fill="#4a5ae6"/>
<circle cx="272.08" cy="673.9" r="1.35" fill="#4a5ae6"/>
<circle cx="285.16" cy="673.9" r="1.35" fill="#4a5ae6"/>
<circle cx="290.31" cy="673.4" r="1.35" fill="#4a5ae6"/>
<circle cx="278.99" cy="676" r="1.35" fill="#4a5ae6"/>
<circle cx="268.54" cy="679.2" r="1.35" fill="#4a5ae6"/>
<circle cx="273.24" cy="679.5" r="1.35" fill="#4a5ae6"/>
<circle cx="280.91" cy="677.7" r="1.35" fill="#4a5ae6"/>
<circle cx="280.31" cy="679.5" r="1.35" fill="#4a5ae6"/>
<circle cx="286.06" cy="678.6" r="1.35" fill="#4a5ae6"/>
<circle cx="287.83" cy="678.1" r="1.35" fill="#4a5ae6"/>
<circle cx="269.7" cy="681.8" r="1.35" fill="#4a5ae6"/>
<circle cx="271.47" cy="682.1" r="1.35" fill="#4a5ae6"/>
<circle cx="271.87" cy="683.9" r="1.35" fill="#4a5ae6"/>
<circle cx="273.64" cy="684.4" r="1.35" fill="#4a5ae6"/>
<circle cx="278.29" cy="683.9" r="1.35" fill="#4a5ae6"/>
<circle cx="281.17" cy="684.8" r="1.35" fill="#4a5ae6"/>
<circle cx="286.06" cy="682.7" r="1.35" fill="#4a5ae6"/>
<circle cx="270.56" cy="688.2" r="1.35" fill="#4a5ae6"/>
<circle cx="274.35" cy="688.2" r="1.35" fill="#4a5ae6"/>
<circle cx="288.24" cy="686.5" r="1.35" fill="#4a5ae6"/>
<circle cx="290.31" cy="687.9" r="1.35" fill="#4a5ae6"/>
<circle cx="268.19" cy="692.6" r="1.35" fill="#4a5ae6"/>
<circle cx="273.24" cy="695.8" r="1.35" fill="#4a5ae6"/>
<circle cx="285.41" cy="694" r="1.35" fill="#4a5ae6"/>
<circle cx="272.33" cy="698.8" r="1.35" fill="#4a5ae6"/>
<circle cx="268.34" cy="701.7" r="1.35" fill="#4a5ae6"/>
<circle cx="278.09" cy="701.7" r="1.35" fill="#4a5ae6"/>
<circle cx="278.99" cy="700.5" r="1.35" fill="#4a5ae6"/>
<circle cx="282.07" cy="698.8" r="1.35" fill="#4a5ae6"/>
<circle cx="282.93" cy="700.2" r="1.35" fill="#4a5ae6"/>
<circle cx="283.59" cy="701.4" r="1.35" fill="#4a5ae6"/>
<circle cx="284.55" cy="704.5" r="1.35" fill="#4a5ae6"/>
<circle cx="274.1" cy="714.5" r="1.35" fill="#4a5ae6"/>
<circle cx="276.32" cy="714" r="1.35" fill="#4a5ae6"/>
<circle cx="289.04" cy="669.2" r="1.35" fill="#4a5ae6"/>
<circle cx="290.56" cy="676.2" r="1.35" fill="#4a5ae6"/>
<circle cx="275.41" cy="677.2" r="1.35" fill="#4a5ae6"/>
<circle cx="276.42" cy="684.2" r="1.35" fill="#4a5ae6"/>
<circle cx="283.49" cy="687.2" r="1.35" fill="#4a5ae6"/>
<circle cx="269.35" cy="676.2" r="1.35" fill="#4a5ae6"/>
<line x1="327.5" y1="688" x2="327.5" y2="690.9" stroke="#555" stroke-width="1" stroke-dasharray="1 1" stroke-linecap="butt"/>
<line x1="327.5" y1="696.5" x2="327.5" y2="699.2" stroke="#555" stroke-width="1" stroke-dasharray="1 1" stroke-linecap="butt"/>
<line x1="322.2" y1="688.5" x2="333.6" y2="688.5" stroke="#666" stroke-width="1.1" stroke-linecap="butt"/>
<line x1="322.2" y1="699.5" x2="333.6" y2="699.5" stroke="#666" stroke-width="1.1" stroke-linecap="butt"/>
<rect x="315.5" y="690.9" width="24.2" height="5.6" fill="none" stroke="#666" stroke-width="1.1"/>
<line x1="316" y1="693.5" x2="339.2" y2="693.5" stroke="#222" stroke-width="1.2" stroke-linecap="butt"/>
<circle cx="315.5" cy="688" r="1.35" fill="#e8822a"/>
<circle cx="332.2" cy="699.2" r="1.35" fill="#e8822a"/>
<line x1="375.5" y1="687.1" x2="375.5" y2="699.3" stroke="#555" stroke-width="1" stroke-dasharray="1 1" stroke-linecap="butt"/>
<line x1="375.5" y1="713.3" x2="375.5" y2="729.6" stroke="#555" stroke-width="1" stroke-dasharray="1 1" stroke-linecap="butt"/>
<line x1="369.5" y1="687.5" x2="381" y2="687.5" stroke="#666" stroke-width="1.1" stroke-linecap="butt"/>
<line x1="369.5" y1="729.5" x2="381" y2="729.5" stroke="#666" stroke-width="1.1" stroke-linecap="butt"/>
<rect x="363.4" y="699.3" width="23.3" height="14" fill="none" stroke="#666" stroke-width="1.1"/>
<line x1="363.9" y1="709.5" x2="386.2" y2="709.5" stroke="#222" stroke-width="1.2" stroke-linecap="butt"/>
<circle cx="368.3" cy="687.9" r="1.35" fill="#5fe0e0"/>
<circle cx="369.7" cy="692.6" r="1.35" fill="#5fe0e0"/>
<circle cx="366.2" cy="694.9" r="1.35" fill="#5fe0e0"/>
<circle cx="377.9" cy="693.7" r="1.35" fill="#5fe0e0"/>
<circle cx="379.7" cy="694.4" r="1.35" fill="#5fe0e0"/>
<circle cx="383.7" cy="693.5" r="1.35" fill="#5fe0e0"/>
<circle cx="385.8" cy="696.1" r="1.35" fill="#5fe0e0"/>
<circle cx="365.1" cy="700.1" r="1.35" fill="#5fe0e0"/>
<circle cx="367.4" cy="701.4" r="1.35" fill="#5fe0e0"/>
<circle cx="374.4" cy="699.6" r="1.35" fill="#5fe0e0"/>
<circle cx="363" cy="707.1" r="1.35" fill="#5fe0e0"/>
<circle cx="367.9" cy="708.9" r="1.35" fill="#5fe0e0"/>
<circle cx="377" cy="707.1" r="1.35" fill="#5fe0e0"/>
<circle cx="378.8" cy="707.7" r="1.35" fill="#5fe0e0"/>
<circle cx="365.1" cy="711.5" r="1.35" fill="#5fe0e0"/>
<circle cx="374.4" cy="713.3" r="1.35" fill="#5fe0e0"/>
<circle cx="377" cy="712.7" r="1.35" fill="#5fe0e0"/>
<circle cx="379.7" cy="712.9" r="1.35" fill="#5fe0e0"/>
<circle cx="382.3" cy="713.3" r="1.35" fill="#5fe0e0"/>
<circle cx="385.8" cy="711.5" r="1.35" fill="#5fe0e0"/>
<circle cx="366.2" cy="719.4" r="1.35" fill="#5fe0e0"/>
<circle cx="381.4" cy="721.5" r="1.35" fill="#5fe0e0"/>
<circle cx="382.6" cy="720.3" r="1.35" fill="#5fe0e0"/>
<circle cx="376.2" cy="727.3" r="1.35" fill="#5fe0e0"/>
<circle cx="380.9" cy="729.4" r="1.35" fill="#5fe0e0"/>
<circle cx="363.9" cy="736.4" r="1.35" fill="#5fe0e0"/>
<circle cx="371" cy="703" r="1.35" fill="#5fe0e0"/>
<circle cx="384" cy="705" r="1.35" fill="#5fe0e0"/>
<circle cx="369" cy="716" r="1.35" fill="#5fe0e0"/>
<circle cx="372" cy="710" r="1.35" fill="#5fe0e0"/>
<circle cx="364" cy="704" r="1.35" fill="#5fe0e0"/>
<circle cx="386" cy="708" r="1.35" fill="#5fe0e0"/>
<line x1="423.5" y1="691.4" x2="423.5" y2="708" stroke="#555" stroke-width="1" stroke-dasharray="1 1" stroke-linecap="butt"/>
<line x1="423.5" y1="716.3" x2="423.5" y2="726.4" stroke="#555" stroke-width="1" stroke-dasharray="1 1" stroke-linecap="butt"/>
<line x1="417.3" y1="691.5" x2="429.3" y2="691.5" stroke="#666" stroke-width="1.1" stroke-linecap="butt"/>
<line x1="417.3" y1="726.5" x2="429.3" y2="726.5" stroke="#666" stroke-width="1.1" stroke-linecap="butt"/>
<rect x="411.2" y="708" width="23.6" height="8.3" fill="none" stroke="#666" stroke-width="1.1"/>
<line x1="411.7" y1="712.5" x2="434.3" y2="712.5" stroke="#222" stroke-width="1.2" stroke-linecap="butt"/>
<circle cx="412.9" cy="682.6" r="1.35" fill="#3ee03e"/>
<circle cx="429" cy="691.9" r="1.35" fill="#3ee03e"/>
<circle cx="427.8" cy="697.5" r="1.35" fill="#3ee03e"/>
<circle cx="429.6" cy="701.9" r="1.35" fill="#3ee03e"/>
<circle cx="417.3" cy="705.9" r="1.35" fill="#3ee03e"/>
<circle cx="426.9" cy="708" r="1.35" fill="#3ee03e"/>
<circle cx="431" cy="710.1" r="1.35" fill="#3ee03e"/>
<circle cx="415.6" cy="709.8" r="1.35" fill="#3ee03e"/>
<circle cx="425.2" cy="712.4" r="1.35" fill="#3ee03e"/>
<circle cx="412.1" cy="712.4" r="1.35" fill="#3ee03e"/>
<circle cx="434" cy="714.2" r="1.35" fill="#3ee03e"/>
<circle cx="411.2" cy="714.7" r="1.35" fill="#3ee03e"/>
<circle cx="413.8" cy="716.8" r="1.35" fill="#3ee03e"/>
<circle cx="415.9" cy="717.3" r="1.35" fill="#3ee03e"/>
<circle cx="431" cy="718.5" r="1.35" fill="#3ee03e"/>
<circle cx="434" cy="718.9" r="1.35" fill="#3ee03e"/>
<circle cx="413.5" cy="726.4" r="1.35" fill="#3ee03e"/>
<circle cx="433.6" cy="664.6" r="1.35" fill="#3ee03e"/>
<circle cx="420" cy="711" r="1.35" fill="#3ee03e"/>
<circle cx="428" cy="714" r="1.35" fill="#3ee03e"/>
<text x="310" y="655" font-size="8.6" fill="#262626" color="#262626" font-style="italic">p</text>
<text x="314.78" y="655" font-size="8.6" fill="#262626" color="#262626" textLength="28.92" lengthAdjust="spacingAndGlyphs"> = 2.01</text>
<text x="314.3" y="666.9" font-size="8.6" fill="#262626" color="#262626" textLength="15" lengthAdjust="spacingAndGlyphs">x 10</text>
<text x="329.6" y="663" font-size="6" fill="#262626" color="#262626" textLength="4.92" lengthAdjust="spacingAndGlyphs">-1</text>
<text x="328" y="681.6" font-size="14" fill="#262626" color="#262626" text-anchor="middle">ns</text>
<text x="359.2" y="656.4" font-size="8.6" fill="#262626" color="#262626" font-style="italic">p</text>
<text x="363.98" y="656.4" font-size="8.6" fill="#262626" color="#262626" textLength="29.32" lengthAdjust="spacingAndGlyphs"> = 1.29</text>
<text x="361.6" y="668.3" font-size="8.6" fill="#262626" color="#262626" textLength="17.27" lengthAdjust="spacingAndGlyphs">x 10</text>
<text x="379.17" y="664.4" font-size="6" fill="#262626" color="#262626" textLength="9.21" lengthAdjust="spacingAndGlyphs">-16</text>
<polygon points="365.24,675.7 365.88,678.11 368.38,677.98 366.28,679.34 367.18,681.67 365.24,680.1 363.3,681.67 364.19,679.34 362.1,677.98 364.59,678.11" fill="#262626"/>
<polygon points="371.91,675.7 372.56,678.11 375.05,677.98 372.96,679.34 373.85,681.67 371.91,680.1 369.97,681.67 370.87,679.34 368.77,677.98 371.27,678.11" fill="#262626"/>
<polygon points="378.59,675.7 379.23,678.11 381.73,677.98 379.63,679.34 380.53,681.67 378.59,680.1 376.65,681.67 377.54,679.34 375.45,677.98 377.94,678.11" fill="#262626"/>
<polygon points="385.26,675.7 385.91,678.11 388.4,677.98 386.31,679.34 387.2,681.67 385.26,680.1 383.32,681.67 384.22,679.34 382.12,677.98 384.62,678.11" fill="#262626"/>
<text x="404.2" y="632.8" font-size="8.6" fill="#262626" color="#262626" font-style="italic">p</text>
<text x="408.98" y="632.8" font-size="8.6" fill="#262626" color="#262626" textLength="29.92" lengthAdjust="spacingAndGlyphs"> = 1.16</text>
<text x="408.6" y="645" font-size="8.6" fill="#262626" color="#262626" textLength="17.01" lengthAdjust="spacingAndGlyphs">x 10</text>
<text x="425.91" y="641.1" font-size="6" fill="#262626" color="#262626" textLength="5.58" lengthAdjust="spacingAndGlyphs">-8</text>
<polygon points="411.74,652.1 412.38,654.51 414.88,654.38 412.78,655.74 413.68,658.07 411.74,656.5 409.8,658.07 410.69,655.74 408.6,654.38 411.09,654.51" fill="#262626"/>
<polygon points="418.68,652.1 419.33,654.51 421.82,654.38 419.73,655.74 420.62,658.07 418.68,656.5 416.74,658.07 417.63,655.74 415.54,654.38 418.03,654.51" fill="#262626"/>
<polygon points="425.62,652.1 426.27,654.51 428.76,654.38 426.67,655.74 427.56,658.07 425.62,656.5 423.68,658.07 424.57,655.74 422.48,654.38 424.97,654.51" fill="#262626"/>
<polygon points="432.56,652.1 433.21,654.51 435.7,654.38 433.61,655.74 434.5,658.07 432.56,656.5 430.62,658.07 431.52,655.74 429.42,654.38 431.92,654.51" fill="#262626"/>
<text x="329.6" y="630.1" font-size="8.6" fill="#262626" color="#262626" textLength="43.1" lengthAdjust="spacingAndGlyphs">G = Grade</text>
<text x="280.6" y="772.8" font-size="9.6" fill="#262626" color="#262626" text-anchor="middle" textLength="34.1" lengthAdjust="spacingAndGlyphs">Normal</text>
<text x="280.6" y="785" font-size="9.6" fill="#262626" color="#262626" text-anchor="middle" textLength="34.1" lengthAdjust="spacingAndGlyphs">(n=111)</text>
<text x="327.6" y="772.8" font-size="9.6" fill="#262626" color="#262626" text-anchor="middle" textLength="12.9" lengthAdjust="spacingAndGlyphs">G I</text>
<text x="327.3" y="785.2" font-size="9.6" fill="#262626" color="#262626" text-anchor="middle" textLength="23.2" lengthAdjust="spacingAndGlyphs">(n=7)</text>
<text x="376.1" y="773.3" font-size="9.6" fill="#262626" color="#262626" text-anchor="middle" textLength="15.7" lengthAdjust="spacingAndGlyphs">G 2</text>
<text x="376.2" y="786.2" font-size="9.6" fill="#262626" color="#262626" text-anchor="middle" textLength="29.1" lengthAdjust="spacingAndGlyphs">(n=59)</text>
<text x="423.4" y="772.8" font-size="9.6" fill="#262626" color="#262626" text-anchor="middle" textLength="15.6" lengthAdjust="spacingAndGlyphs">G 3</text>
<text x="423.7" y="785.2" font-size="9.6" fill="#262626" color="#262626" text-anchor="middle" textLength="28.6" lengthAdjust="spacingAndGlyphs">(n=39)</text>
<text x="354.6" y="801" font-size="9.6" fill="#262626" color="#262626" text-anchor="middle" textLength="72.3" lengthAdjust="spacingAndGlyphs">CPTAC Samples</text>
<text x="482.2" y="582.5" font-size="15" fill="#262626" color="#262626">K</text>
<line x1="493" y1="746.5" x2="496" y2="746.5" stroke="#666" stroke-width="1" stroke-linecap="butt"/>
<text x="490.5" y="749.7" font-size="9.5" fill="#262626" color="#262626" text-anchor="end">0.0</text>
<line x1="493" y1="716.5" x2="496" y2="716.5" stroke="#666" stroke-width="1" stroke-linecap="butt"/>
<text x="490.5" y="720.04" font-size="9.5" fill="#262626" color="#262626" text-anchor="end">0.2</text>
<line x1="493" y1="686.5" x2="496" y2="686.5" stroke="#666" stroke-width="1" stroke-linecap="butt"/>
<text x="490.5" y="690.38" font-size="9.5" fill="#262626" color="#262626" text-anchor="end">0.4</text>
<line x1="493" y1="657.5" x2="496" y2="657.5" stroke="#666" stroke-width="1" stroke-linecap="butt"/>
<text x="490.5" y="660.72" font-size="9.5" fill="#262626" color="#262626" text-anchor="end">0.6</text>
<line x1="493" y1="627.5" x2="496" y2="627.5" stroke="#666" stroke-width="1" stroke-linecap="butt"/>
<text x="490.5" y="631.06" font-size="9.5" fill="#262626" color="#262626" text-anchor="end">0.8</text>
<line x1="493" y1="598.5" x2="496" y2="598.5" stroke="#666" stroke-width="1" stroke-linecap="butt"/>
<text x="490.5" y="601.4" font-size="9.5" fill="#262626" color="#262626" text-anchor="end">1.0</text>
<line x1="496" y1="752.3" x2="683.7" y2="752.3" stroke="#777" stroke-width="1.1" stroke-linecap="butt"/>
<line x1="496" y1="596" x2="496" y2="752.3" stroke="#aaa" stroke-width="1.5" stroke-linecap="butt"/>
<line x1="502.8" y1="752.8" x2="502.8" y2="756" stroke="#aaa" stroke-width="1.3" stroke-linecap="butt"/>
<text x="502.8" y="765.6" font-size="9.5" fill="#262626" color="#262626" text-anchor="middle">0</text>
<line x1="542.64" y1="752.8" x2="542.64" y2="756" stroke="#aaa" stroke-width="1.3" stroke-linecap="butt"/>
<text x="542.64" y="765.6" font-size="9.5" fill="#262626" color="#262626" text-anchor="middle">50</text>
<line x1="582.48" y1="752.8" x2="582.48" y2="756" stroke="#aaa" stroke-width="1.3" stroke-linecap="butt"/>
<text x="582.48" y="765.6" font-size="9.5" fill="#262626" color="#262626" text-anchor="middle">100</text>
<line x1="622.32" y1="752.8" x2="622.32" y2="756" stroke="#aaa" stroke-width="1.3" stroke-linecap="butt"/>
<text x="622.32" y="765.6" font-size="9.5" fill="#262626" color="#262626" text-anchor="middle">150</text>
<line x1="662.16" y1="752.8" x2="662.16" y2="756" stroke="#aaa" stroke-width="1.3" stroke-linecap="butt"/>
<text x="662.16" y="765.6" font-size="9.5" fill="#262626" color="#262626" text-anchor="middle">200</text>
<text x="467" y="667.3" font-size="9.3" fill="#262626" color="#262626" text-anchor="middle" textLength="84.5" lengthAdjust="spacingAndGlyphs" transform="rotate(-90 467 667.3)">Survival Probability</text>
<text x="585.2" y="778.5" font-size="8.8" fill="#262626" color="#262626" text-anchor="middle" textLength="63.1" lengthAdjust="spacingAndGlyphs">Time (Months)</text>
<text x="567.1" y="610.6" font-size="8.8" fill="#262626" color="#262626" textLength="91.9" lengthAdjust="spacingAndGlyphs">HR = 0.5 (0.39 – 0.65)</text>
<text x="567.1" y="622.9" font-size="8.8" fill="#262626" color="#262626" textLength="35.77" lengthAdjust="spacingAndGlyphs">log rank </text>
<text x="602.87" y="622.9" font-size="8.8" fill="#262626" color="#262626" font-style="italic">p</text>
<text x="607.77" y="622.9" font-size="8.8" fill="#262626" color="#262626" textLength="50.83" lengthAdjust="spacingAndGlyphs"> = 1.20 x 10</text>
<text x="658.9" y="619.4" font-size="6" fill="#262626" color="#262626" textLength="5.2" lengthAdjust="spacingAndGlyphs">-7</text>
<text x="501.9" y="724.5" font-size="9.3" fill="#262626" color="#262626" textLength="47.7" lengthAdjust="spacingAndGlyphs">Expression</text>
<text x="523.7" y="735.3" font-size="9.3" fill="#262626" color="#262626">Low</text>
<text x="523.7" y="745.9" font-size="9.3" fill="#262626" color="#262626">High</text>
<line x1="503.7" y1="733.5" x2="518.9" y2="733.5" stroke="#555" stroke-width="0.9" stroke-linecap="butt"/>
<line x1="503.7" y1="742.5" x2="518.9" y2="742.5" stroke="#eaa0b8" stroke-width="0.9" stroke-linecap="butt"/>
<circle cx="503.5" cy="746.4" r="0.7" fill="#555"/>
<path d="M503.2,598.5 L505.5,600.2 L508.5,601.8 L511,604 L513.5,605.9 L516,608.5 L518.5,611.1 L520.5,613.5 L522,616.3 L525,619 L528.3,621.6 L531,624 L534.3,626.4 L537,628.3 L539.1,629.5 L541,631 L543,632.5 L546,634.5 L549.3,636.4 L552,637 L555,637.5 L558,638.3 L560.5,639.5 L562.5,641.8 L564.8,644.5 L572,645.1 L573.7,650.2 L578.5,651.1 L580.3,657.3 L642.9,657.3" fill="none" stroke="#d24a74" stroke-width="1.2" stroke-linejoin="round"/>
<path d="M642.9,657.3 L642.9,746.5" fill="none" stroke="#e3a3bb" stroke-width="1"/>
<path d="M518.5,611.1 L520.5,613.5 L522,616.3 L525,619 L528.3,621.6 L531,624 L534.3,626.4 L537,628.3 L539.1,629.5 L541,631 L543,632.5 L546,634.5 L549.3,636.4 L552,637 L555,637.5 L558,638.3 L560.5,639.5 L562.5,641.8 L564.8,644.5" fill="none" stroke="#d24a74" stroke-width="2.6" stroke-linejoin="round" opacity="0.9"/>
<path d="M503.2,598.8 L505.5,601.5 L507.7,604.5 L509.5,607.5 L511,610.3 L512.3,612.8 L513.5,617 L514.5,620.8 L516.6,624.2 L518,626 L520.1,630.3 L521.5,633.9 L523.6,637.3 L525,639.2 L527,641 L528.9,642.5 L530.3,643.6 L532,646.2 L533.5,648.8 L535.5,652 L537.5,655.3 L538.2,656.6 L540,658.2 L541.5,659.7 L543.5,661.3 L546.1,663.6 L549,664.4 L551,665.3 L553.1,666.3 L556,668.4 L558,670 L560.1,671.5 L562.5,672.8 L564.8,674.1 L567.1,675 L570,676 L573.6,677.3 L576,679.5 L578.1,681.4 L582,681.8 L586,683.1 L589,686.5 L591.3,689.3 L594,690 L596.5,691 L599,692.3 L601.8,693.6 L604.5,695.4 L607,697.1 L609.5,699.5 L612.3,702 L622.8,702 L623.7,704.2 L642.1,704.2 L643.8,708 L657.5,708 L657.8,714.3 L659,722.2 L680.6,722.2" fill="none" stroke="#1a1a1a" stroke-width="1" stroke-linejoin="round"/>
<path d="M537.5,655.3 L538.2,656.6 L540,658.2 L541.5,659.7 L543.5,661.3 L546.1,663.6 L549,664.4 L551,665.3 L553.1,666.3 L556,668.4 L558,670 L560.1,671.5 L562.5,672.8 L564.8,674.1 L567.1,675 L570,676 L573.6,677.3 L576,679.5 L578.1,681.4 L582,681.8 L586,683.1 L589,686.5 L591.3,689.3 L594,690 L596.5,691 L599,692.3 L601.8,693.6 L604.5,695.4 L607,697.1 L609.5,699.5" fill="none" stroke="#1a1a1a" stroke-width="2" stroke-linejoin="round" opacity="0.85"/>
<line x1="578.7" y1="657.5" x2="582.1" y2="657.5" stroke="#d24a74" stroke-width="0.8" stroke-linecap="butt"/>
<line x1="580.5" y1="655.6" x2="580.5" y2="659" stroke="#d24a74" stroke-width="0.8" stroke-linecap="butt"/>
<line x1="580.8" y1="657.5" x2="584.2" y2="657.5" stroke="#d24a74" stroke-width="0.8" stroke-linecap="butt"/>
<line x1="582.5" y1="655.6" x2="582.5" y2="659" stroke="#d24a74" stroke-width="0.8" stroke-linecap="butt"/>
<line x1="582.6" y1="657.5" x2="586" y2="657.5" stroke="#d24a74" stroke-width="0.8" stroke-linecap="butt"/>
<line x1="584.5" y1="655.6" x2="584.5" y2="659" stroke="#d24a74" stroke-width="0.8" stroke-linecap="butt"/>
<line x1="586.1" y1="657.5" x2="589.5" y2="657.5" stroke="#d24a74" stroke-width="0.8" stroke-linecap="butt"/>
<line x1="587.5" y1="655.6" x2="587.5" y2="659" stroke="#d24a74" stroke-width="0.8" stroke-linecap="butt"/>
<line x1="587.8" y1="657.5" x2="591.2" y2="657.5" stroke="#d24a74" stroke-width="0.8" stroke-linecap="butt"/>
<line x1="589.5" y1="655.6" x2="589.5" y2="659" stroke="#d24a74" stroke-width="0.8" stroke-linecap="butt"/>
<line x1="589.6" y1="657.5" x2="593" y2="657.5" stroke="#d24a74" stroke-width="0.8" stroke-linecap="butt"/>
<line x1="591.5" y1="655.6" x2="591.5" y2="659" stroke="#d24a74" stroke-width="0.8" stroke-linecap="butt"/>
<line x1="591.3" y1="657.5" x2="594.7" y2="657.5" stroke="#d24a74" stroke-width="0.8" stroke-linecap="butt"/>
<line x1="593.5" y1="655.6" x2="593.5" y2="659" stroke="#d24a74" stroke-width="0.8" stroke-linecap="butt"/>
<line x1="593.1" y1="657.5" x2="596.5" y2="657.5" stroke="#d24a74" stroke-width="0.8" stroke-linecap="butt"/>
<line x1="594.5" y1="655.6" x2="594.5" y2="659" stroke="#d24a74" stroke-width="0.8" stroke-linecap="butt"/>
<line x1="594.8" y1="657.5" x2="598.2" y2="657.5" stroke="#d24a74" stroke-width="0.8" stroke-linecap="butt"/>
<line x1="596.5" y1="655.6" x2="596.5" y2="659" stroke="#d24a74" stroke-width="0.8" stroke-linecap="butt"/>
<line x1="601" y1="657.5" x2="604.4" y2="657.5" stroke="#d24a74" stroke-width="0.8" stroke-linecap="butt"/>
<line x1="602.5" y1="655.6" x2="602.5" y2="659" stroke="#d24a74" stroke-width="0.8" stroke-linecap="butt"/>
<line x1="602.7" y1="657.5" x2="606.1" y2="657.5" stroke="#d24a74" stroke-width="0.8" stroke-linecap="butt"/>
<line x1="604.5" y1="655.6" x2="604.5" y2="659" stroke="#d24a74" stroke-width="0.8" stroke-linecap="butt"/>
<line x1="604.5" y1="657.5" x2="607.9" y2="657.5" stroke="#d24a74" stroke-width="0.8" stroke-linecap="butt"/>
<line x1="606.5" y1="655.6" x2="606.5" y2="659" stroke="#d24a74" stroke-width="0.8" stroke-linecap="butt"/>
<line x1="608" y1="657.5" x2="611.4" y2="657.5" stroke="#d24a74" stroke-width="0.8" stroke-linecap="butt"/>
<line x1="609.5" y1="655.6" x2="609.5" y2="659" stroke="#d24a74" stroke-width="0.8" stroke-linecap="butt"/>
<line x1="609.7" y1="657.5" x2="613.1" y2="657.5" stroke="#d24a74" stroke-width="0.8" stroke-linecap="butt"/>
<line x1="611.5" y1="655.6" x2="611.5" y2="659" stroke="#d24a74" stroke-width="0.8" stroke-linecap="butt"/>
<line x1="611.5" y1="657.5" x2="614.9" y2="657.5" stroke="#d24a74" stroke-width="0.8" stroke-linecap="butt"/>
<line x1="613.5" y1="655.6" x2="613.5" y2="659" stroke="#d24a74" stroke-width="0.8" stroke-linecap="butt"/>
<line x1="629" y1="657.5" x2="632.4" y2="657.5" stroke="#d24a74" stroke-width="0.8" stroke-linecap="butt"/>
<line x1="630.5" y1="655.6" x2="630.5" y2="659" stroke="#d24a74" stroke-width="0.8" stroke-linecap="butt"/>
<line x1="570.3" y1="645.5" x2="573.7" y2="645.5" stroke="#d24a74" stroke-width="0.8" stroke-linecap="butt"/>
<line x1="572.5" y1="643.4" x2="572.5" y2="646.8" stroke="#d24a74" stroke-width="0.8" stroke-linecap="butt"/>
<line x1="572.8" y1="650.5" x2="576.2" y2="650.5" stroke="#d24a74" stroke-width="0.8" stroke-linecap="butt"/>
<line x1="574.5" y1="648.8" x2="574.5" y2="652.2" stroke="#d24a74" stroke-width="0.8" stroke-linecap="butt"/>
<line x1="575.3" y1="651.5" x2="578.7" y2="651.5" stroke="#d24a74" stroke-width="0.8" stroke-linecap="butt"/>
<line x1="577.5" y1="649.3" x2="577.5" y2="652.7" stroke="#d24a74" stroke-width="0.8" stroke-linecap="butt"/>
<line x1="564.3" y1="644.5" x2="567.7" y2="644.5" stroke="#d24a74" stroke-width="0.8" stroke-linecap="butt"/>
<line x1="566.5" y1="642.8" x2="566.5" y2="646.2" stroke="#d24a74" stroke-width="0.8" stroke-linecap="butt"/>
<line x1="559.3" y1="640.5" x2="562.7" y2="640.5" stroke="#d24a74" stroke-width="0.8" stroke-linecap="butt"/>
<line x1="561.5" y1="638.3" x2="561.5" y2="641.7" stroke="#d24a74" stroke-width="0.8" stroke-linecap="butt"/>
<line x1="555.3" y1="638.5" x2="558.7" y2="638.5" stroke="#d24a74" stroke-width="0.8" stroke-linecap="butt"/>
<line x1="557.5" y1="636.5" x2="557.5" y2="639.9" stroke="#d24a74" stroke-width="0.8" stroke-linecap="butt"/>
<line x1="513.8" y1="622.5" x2="517.2" y2="622.5" stroke="#1a1a1a" stroke-width="0.8" stroke-linecap="butt"/>
<line x1="515.5" y1="620.8" x2="515.5" y2="624.2" stroke="#1a1a1a" stroke-width="0.8" stroke-linecap="butt"/>
<line x1="517.3" y1="628.5" x2="520.7" y2="628.5" stroke="#1a1a1a" stroke-width="0.8" stroke-linecap="butt"/>
<line x1="519.5" y1="626.8" x2="519.5" y2="630.2" stroke="#1a1a1a" stroke-width="0.8" stroke-linecap="butt"/>
<line x1="522.8" y1="638.5" x2="526.2" y2="638.5" stroke="#1a1a1a" stroke-width="0.8" stroke-linecap="butt"/>
<line x1="524.5" y1="636.8" x2="524.5" y2="640.2" stroke="#1a1a1a" stroke-width="0.8" stroke-linecap="butt"/>
<line x1="527.8" y1="643.5" x2="531.2" y2="643.5" stroke="#1a1a1a" stroke-width="0.8" stroke-linecap="butt"/>
<line x1="529.5" y1="641.3" x2="529.5" y2="644.7" stroke="#1a1a1a" stroke-width="0.8" stroke-linecap="butt"/>
<line x1="536.1" y1="656.5" x2="539.5" y2="656.5" stroke="#1a1a1a" stroke-width="0.8" stroke-linecap="butt"/>
<line x1="537.5" y1="654.3" x2="537.5" y2="657.7" stroke="#1a1a1a" stroke-width="0.8" stroke-linecap="butt"/>
<line x1="539.3" y1="659.5" x2="542.7" y2="659.5" stroke="#1a1a1a" stroke-width="0.8" stroke-linecap="butt"/>
<line x1="541.5" y1="657.3" x2="541.5" y2="660.7" stroke="#1a1a1a" stroke-width="0.8" stroke-linecap="butt"/>
<line x1="542.3" y1="662.5" x2="545.7" y2="662.5" stroke="#1a1a1a" stroke-width="0.8" stroke-linecap="butt"/>
<line x1="544.5" y1="660.3" x2="544.5" y2="663.7" stroke="#1a1a1a" stroke-width="0.8" stroke-linecap="butt"/>
<line x1="550.3" y1="665.5" x2="553.7" y2="665.5" stroke="#1a1a1a" stroke-width="0.8" stroke-linecap="butt"/>
<line x1="552.5" y1="664.1" x2="552.5" y2="667.5" stroke="#1a1a1a" stroke-width="0.8" stroke-linecap="butt"/>
<line x1="554.3" y1="668.5" x2="557.7" y2="668.5" stroke="#1a1a1a" stroke-width="0.8" stroke-linecap="butt"/>
<line x1="556.5" y1="666.7" x2="556.5" y2="670.1" stroke="#1a1a1a" stroke-width="0.8" stroke-linecap="butt"/>
<line x1="559.3" y1="672.5" x2="562.7" y2="672.5" stroke="#1a1a1a" stroke-width="0.8" stroke-linecap="butt"/>
<line x1="561.5" y1="670.3" x2="561.5" y2="673.7" stroke="#1a1a1a" stroke-width="0.8" stroke-linecap="butt"/>
<line x1="564.3" y1="674.5" x2="567.7" y2="674.5" stroke="#1a1a1a" stroke-width="0.8" stroke-linecap="butt"/>
<line x1="566.5" y1="672.9" x2="566.5" y2="676.3" stroke="#1a1a1a" stroke-width="0.8" stroke-linecap="butt"/>
<line x1="567.3" y1="675.5" x2="570.7" y2="675.5" stroke="#1a1a1a" stroke-width="0.8" stroke-linecap="butt"/>
<line x1="569.5" y1="674.1" x2="569.5" y2="677.5" stroke="#1a1a1a" stroke-width="0.8" stroke-linecap="butt"/>
<line x1="573.3" y1="678.5" x2="576.7" y2="678.5" stroke="#1a1a1a" stroke-width="0.8" stroke-linecap="butt"/>
<line x1="575.5" y1="676.9" x2="575.5" y2="680.3" stroke="#1a1a1a" stroke-width="0.8" stroke-linecap="butt"/>
<line x1="577.3" y1="681.5" x2="580.7" y2="681.5" stroke="#1a1a1a" stroke-width="0.8" stroke-linecap="butt"/>
<line x1="579.5" y1="679.8" x2="579.5" y2="683.2" stroke="#1a1a1a" stroke-width="0.8" stroke-linecap="butt"/>
<line x1="581.3" y1="681.5" x2="584.7" y2="681.5" stroke="#1a1a1a" stroke-width="0.8" stroke-linecap="butt"/>
<line x1="583.5" y1="680.1" x2="583.5" y2="683.5" stroke="#1a1a1a" stroke-width="0.8" stroke-linecap="butt"/>
<line x1="586.3" y1="685.5" x2="589.7" y2="685.5" stroke="#1a1a1a" stroke-width="0.8" stroke-linecap="butt"/>
<line x1="588.5" y1="683.3" x2="588.5" y2="686.7" stroke="#1a1a1a" stroke-width="0.8" stroke-linecap="butt"/>
<line x1="590.8" y1="689.5" x2="594.2" y2="689.5" stroke="#1a1a1a" stroke-width="0.8" stroke-linecap="butt"/>
<line x1="592.5" y1="687.9" x2="592.5" y2="691.3" stroke="#1a1a1a" stroke-width="0.8" stroke-linecap="butt"/>
<line x1="595.3" y1="691.5" x2="598.7" y2="691.5" stroke="#1a1a1a" stroke-width="0.8" stroke-linecap="butt"/>
<line x1="597.5" y1="689.5" x2="597.5" y2="692.9" stroke="#1a1a1a" stroke-width="0.8" stroke-linecap="butt"/>
<line x1="598.3" y1="692.5" x2="601.7" y2="692.5" stroke="#1a1a1a" stroke-width="0.8" stroke-linecap="butt"/>
<line x1="600.5" y1="691.1" x2="600.5" y2="694.5" stroke="#1a1a1a" stroke-width="0.8" stroke-linecap="butt"/>
<line x1="601.3" y1="694.5" x2="604.7" y2="694.5" stroke="#1a1a1a" stroke-width="0.8" stroke-linecap="butt"/>
<line x1="603.5" y1="692.6" x2="603.5" y2="696" stroke="#1a1a1a" stroke-width="0.8" stroke-linecap="butt"/>
<line x1="604.3" y1="696.5" x2="607.7" y2="696.5" stroke="#1a1a1a" stroke-width="0.8" stroke-linecap="butt"/>
<line x1="606.5" y1="694.8" x2="606.5" y2="698.2" stroke="#1a1a1a" stroke-width="0.8" stroke-linecap="butt"/>
<line x1="610.6" y1="701.5" x2="614" y2="701.5" stroke="#1a1a1a" stroke-width="0.8" stroke-linecap="butt"/>
<line x1="612.5" y1="699.3" x2="612.5" y2="702.7" stroke="#1a1a1a" stroke-width="0.8" stroke-linecap="butt"/>
<line x1="622" y1="703.5" x2="625.4" y2="703.5" stroke="#1a1a1a" stroke-width="0.8" stroke-linecap="butt"/>
<line x1="623.5" y1="701.6" x2="623.5" y2="705" stroke="#1a1a1a" stroke-width="0.8" stroke-linecap="butt"/>
<line x1="629.8" y1="704.5" x2="633.2" y2="704.5" stroke="#1a1a1a" stroke-width="0.8" stroke-linecap="butt"/>
<line x1="631.5" y1="702.5" x2="631.5" y2="705.9" stroke="#1a1a1a" stroke-width="0.8" stroke-linecap="butt"/>
<line x1="634.8" y1="704.5" x2="638.2" y2="704.5" stroke="#1a1a1a" stroke-width="0.8" stroke-linecap="butt"/>
<line x1="636.5" y1="702.5" x2="636.5" y2="705.9" stroke="#1a1a1a" stroke-width="0.8" stroke-linecap="butt"/>
<line x1="638.8" y1="704.5" x2="642.2" y2="704.5" stroke="#1a1a1a" stroke-width="0.8" stroke-linecap="butt"/>
<line x1="640.5" y1="702.5" x2="640.5" y2="705.9" stroke="#1a1a1a" stroke-width="0.8" stroke-linecap="butt"/>
<line x1="642.7" y1="709.5" x2="646.1" y2="709.5" stroke="#1a1a1a" stroke-width="0.8" stroke-linecap="butt"/>
<line x1="644.5" y1="707.3" x2="644.5" y2="710.7" stroke="#1a1a1a" stroke-width="0.8" stroke-linecap="butt"/>
<line x1="655" y1="713.5" x2="658.4" y2="713.5" stroke="#1a1a1a" stroke-width="0.8" stroke-linecap="butt"/>
<line x1="656.5" y1="711.3" x2="656.5" y2="714.7" stroke="#1a1a1a" stroke-width="0.8" stroke-linecap="butt"/>
<line x1="664.8" y1="722.5" x2="668.2" y2="722.5" stroke="#1a1a1a" stroke-width="0.8" stroke-linecap="butt"/>
<line x1="666.5" y1="720.5" x2="666.5" y2="723.9" stroke="#1a1a1a" stroke-width="0.8" stroke-linecap="butt"/>
<line x1="678.5" y1="722.5" x2="681.9" y2="722.5" stroke="#1a1a1a" stroke-width="0.8" stroke-linecap="butt"/>
<line x1="680.5" y1="720.5" x2="680.5" y2="723.9" stroke="#1a1a1a" stroke-width="0.8" stroke-linecap="butt"/>
<text x="446" y="784.4" font-size="9.3" fill="#262626" color="#262626" textLength="66.6" lengthAdjust="spacingAndGlyphs">Number at Risk</text>
<text x="466.9" y="798.4" font-size="9.3" fill="#262626" color="#262626">Low</text>
<text x="467.3" y="812.5" font-size="9.3" fill="#e0508c" color="#e0508c">High</text>
<text x="503.6" y="798.5" font-size="9.3" fill="#262626" color="#262626" text-anchor="middle">336</text>
<text x="503.6" y="812.3" font-size="9.3" fill="#e0508c" color="#e0508c" text-anchor="middle">336</text>
<text x="543.1" y="798.5" font-size="9.3" fill="#262626" color="#262626" text-anchor="middle">170</text>
<text x="543.1" y="812.3" font-size="9.3" fill="#e0508c" color="#e0508c" text-anchor="middle">180</text>
<text x="583.4" y="798.5" font-size="9.3" fill="#262626" color="#262626" text-anchor="middle">53</text>
<text x="583.4" y="812.3" font-size="9.3" fill="#e0508c" color="#e0508c" text-anchor="middle">20</text>
<text x="623.9" y="798.5" font-size="9.3" fill="#262626" color="#262626" text-anchor="middle">18</text>
<text x="623.9" y="812.3" font-size="9.3" fill="#e0508c" color="#e0508c" text-anchor="middle">2</text>
<text x="663.5" y="798.5" font-size="9.3" fill="#262626" color="#262626" text-anchor="middle">3</text>
<text x="663.5" y="812.3" font-size="9.3" fill="#e0508c" color="#e0508c" text-anchor="middle">0</text>
</svg>
</body></html>
